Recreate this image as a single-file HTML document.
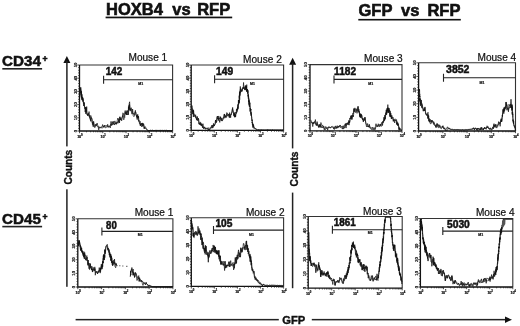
<!DOCTYPE html>
<html><head><meta charset="utf-8"><style>
html,body{margin:0;padding:0;background:#fff;}
body{width:520px;height:326px;overflow:hidden;}
svg{display:block;font-family:"Liberation Sans", sans-serif;}
text{fill:#111;stroke:#111;stroke-width:0.28px;}
svg{will-change:transform;}
</style></head><body>
<svg width="520" height="326" viewBox="0 0 520 326">
<text x="106.0" y="14.5" font-size="16.5" font-weight="bold" style="stroke-width:0.6px" >HOXB4</text>
<text x="172.3" y="14.5" font-size="16.5" font-weight="bold" style="stroke-width:0.6px" >vs</text>
<text x="197.2" y="14.5" font-size="16.5" font-weight="bold" style="stroke-width:0.6px" >RFP</text>
<rect x="105.6" y="16.6" width="126.6" height="1.7" fill="#111"/>
<text x="358.5" y="16.4" font-size="16.5" font-weight="bold" style="stroke-width:0.6px" >GFP</text>
<text x="401.0" y="16.4" font-size="16.5" font-weight="bold" style="stroke-width:0.6px" >vs</text>
<text x="427.4" y="16.4" font-size="16.5" font-weight="bold" style="stroke-width:0.6px" >RFP</text>
<rect x="358.3" y="18.9" width="102.5" height="1.6" fill="#111"/>
<text x="2.0" y="66.2" font-size="15.2" font-weight="bold" style="stroke-width:0.55px" >CD34</text>
<text x="42.6" y="62.0" font-size="8.6" font-weight="bold" style="stroke-width:0.55px" >+</text>
<rect x="2.3" y="68" width="39.8" height="1.6" fill="#222"/>
<text x="2.0" y="224.2" font-size="15.2" font-weight="bold" style="stroke-width:0.55px" >CD45</text>
<text x="42.6" y="220.0" font-size="8.6" font-weight="bold" style="stroke-width:0.55px" >+</text>
<rect x="2.3" y="225.8" width="39.8" height="1.6" fill="#222"/>
<polygon points="66.9,56.0 63.400000000000006,63.0 70.4,63.0" fill="#111"/>
<rect x="66.15" y="61.0" width="1.5" height="85.4" fill="#222"/>
<rect x="66.15" y="189.3" width="1.5" height="97.5" fill="#222"/>
<text x="0" y="0" font-size="10.1" font-weight="bold" text-anchor="middle" style="stroke-width:0.4px" transform="translate(72.0,167.2) rotate(-90)">Counts</text>
<polygon points="292.6,57.8 289.1,64.8 296.1,64.8" fill="#111"/>
<rect x="291.85" y="62.8" width="1.5" height="85.60000000000001" fill="#222"/>
<rect x="291.85" y="192.6" width="1.5" height="95.6" fill="#222"/>
<text x="0" y="0" font-size="10.1" font-weight="bold" text-anchor="middle" style="stroke-width:0.4px" transform="translate(297.6,169.0) rotate(-90)">Counts</text>
<rect x="75.6" y="318.9" width="203.2" height="1.5" fill="#222"/>
<rect x="311.8" y="318.9" width="194" height="1.5" fill="#222"/>
<polygon points="512,319.7 505,316.6 505,322.9" fill="#111"/>
<text x="282.2" y="323.8" font-size="11.2" font-weight="bold" style="stroke-width:0.4px" >GFP</text>
<path d="M79.5,65.0 H172.6 V131.0" fill="none" stroke="#333" stroke-width="1.1"/>
<path d="M79.5,65.0 V131.0 H172.6" fill="none" stroke="#111" stroke-width="1.3"/>
<path d="M77.3,65.00 H79.5 M78.2,67.64 H79.5 M78.2,70.28 H79.5 M78.2,72.92 H79.5 M78.2,75.56 H79.5 M77.3,78.20 H79.5 M78.2,80.84 H79.5 M78.2,83.48 H79.5 M78.2,86.12 H79.5 M78.2,88.76 H79.5 M77.3,91.40 H79.5 M78.2,94.04 H79.5 M78.2,96.68 H79.5 M78.2,99.32 H79.5 M78.2,101.96 H79.5 M77.3,104.60 H79.5 M78.2,107.24 H79.5 M78.2,109.88 H79.5 M78.2,112.52 H79.5 M78.2,115.16 H79.5 M77.3,117.80 H79.5 M78.2,120.44 H79.5 M78.2,123.08 H79.5 M78.2,125.72 H79.5 M78.2,128.36 H79.5 M77.3,131.00 H79.5 M79.50,131.0 V133.2 M86.51,131.0 V132.3 M90.60,131.0 V132.3 M93.51,131.0 V132.3 M95.77,131.0 V132.3 M97.61,131.0 V132.3 M99.17,131.0 V132.3 M100.52,131.0 V132.3 M101.71,131.0 V132.3 M102.78,131.0 V133.2 M109.78,131.0 V132.3 M113.88,131.0 V132.3 M116.79,131.0 V132.3 M119.04,131.0 V132.3 M120.89,131.0 V132.3 M122.44,131.0 V132.3 M123.79,131.0 V132.3 M124.98,131.0 V132.3 M126.05,131.0 V133.2 M133.06,131.0 V132.3 M137.15,131.0 V132.3 M140.06,131.0 V132.3 M142.32,131.0 V132.3 M144.16,131.0 V132.3 M145.72,131.0 V132.3 M147.07,131.0 V132.3 M148.26,131.0 V132.3 M149.32,131.0 V133.2 M156.33,131.0 V132.3 M160.43,131.0 V132.3 M163.34,131.0 V132.3 M165.59,131.0 V132.3 M167.44,131.0 V132.3 M168.99,131.0 V132.3 M170.34,131.0 V132.3 M171.53,131.0 V132.3 M172.60,131.0 V133.2" stroke="#222" stroke-width="0.8" fill="none"/>
<text x="0" y="0" font-size="4.2" font-weight="bold" text-anchor="middle" fill="#333" style="stroke-width:0.15px" transform="translate(76.80,131.00) rotate(-90)">0</text>
<text x="0" y="0" font-size="4.2" font-weight="bold" text-anchor="middle" fill="#333" style="stroke-width:0.15px" transform="translate(76.80,117.80) rotate(-90)">10</text>
<text x="0" y="0" font-size="4.2" font-weight="bold" text-anchor="middle" fill="#333" style="stroke-width:0.15px" transform="translate(76.80,104.60) rotate(-90)">20</text>
<text x="0" y="0" font-size="4.2" font-weight="bold" text-anchor="middle" fill="#333" style="stroke-width:0.15px" transform="translate(76.80,91.40) rotate(-90)">30</text>
<text x="0" y="0" font-size="4.2" font-weight="bold" text-anchor="middle" fill="#333" style="stroke-width:0.15px" transform="translate(76.80,78.20) rotate(-90)">40</text>
<text x="0" y="0" font-size="4.2" font-weight="bold" text-anchor="middle" fill="#333" style="stroke-width:0.15px" transform="translate(76.80,65.00) rotate(-90)">50</text>
<text x="77.30" y="137.60" font-size="3.8" font-weight="bold" style="stroke-width:0.2px" letter-spacing="-0.3">10<tspan font-size="2.8" dy="-2">0</tspan></text>
<text x="100.58" y="137.60" font-size="3.8" font-weight="bold" style="stroke-width:0.2px" letter-spacing="-0.3">10<tspan font-size="2.8" dy="-2">1</tspan></text>
<text x="123.85" y="137.60" font-size="3.8" font-weight="bold" style="stroke-width:0.2px" letter-spacing="-0.3">10<tspan font-size="2.8" dy="-2">2</tspan></text>
<text x="147.12" y="137.60" font-size="3.8" font-weight="bold" style="stroke-width:0.2px" letter-spacing="-0.3">10<tspan font-size="2.8" dy="-2">3</tspan></text>
<text x="170.40" y="137.60" font-size="3.8" font-weight="bold" style="stroke-width:0.2px" letter-spacing="-0.3">10<tspan font-size="2.8" dy="-2">4</tspan></text>
<text x="167.20000000000002" y="61.2" font-size="10.1" font-weight="normal" style="stroke-width:0.22px" text-anchor="end">Mouse 1</text>
<text x="0" y="0" font-size="10.3" font-weight="bold" style="stroke-width:0.5px" transform="translate(105.70,75.00) scale(0.966,1)">142</text>
<path d="M103.6,75.7 V83.7 M103.6,79.7 H172.6" stroke="#222" stroke-width="1.1" fill="none"/>
<text x="138.3" y="85.1" font-size="3.5" font-weight="bold" style="stroke-width:0.2px" fill="#222">M1</text>
<path d="M191.2,65.0 H283.6 V130.4" fill="none" stroke="#333" stroke-width="1.1"/>
<path d="M191.2,65.0 V130.4 H283.6" fill="none" stroke="#111" stroke-width="1.3"/>
<path d="M189.0,65.00 H191.2 M189.89999999999998,67.62 H191.2 M189.89999999999998,70.23 H191.2 M189.89999999999998,72.85 H191.2 M189.89999999999998,75.46 H191.2 M189.0,78.08 H191.2 M189.89999999999998,80.70 H191.2 M189.89999999999998,83.31 H191.2 M189.89999999999998,85.93 H191.2 M189.89999999999998,88.54 H191.2 M189.0,91.16 H191.2 M189.89999999999998,93.78 H191.2 M189.89999999999998,96.39 H191.2 M189.89999999999998,99.01 H191.2 M189.89999999999998,101.62 H191.2 M189.0,104.24 H191.2 M189.89999999999998,106.86 H191.2 M189.89999999999998,109.47 H191.2 M189.89999999999998,112.09 H191.2 M189.89999999999998,114.70 H191.2 M189.0,117.32 H191.2 M189.89999999999998,119.94 H191.2 M189.89999999999998,122.55 H191.2 M189.89999999999998,125.17 H191.2 M189.89999999999998,127.78 H191.2 M189.0,130.40 H191.2 M191.20,130.4 V132.6 M198.15,130.4 V131.70000000000002 M202.22,130.4 V131.70000000000002 M205.11,130.4 V131.70000000000002 M207.35,130.4 V131.70000000000002 M209.18,130.4 V131.70000000000002 M210.72,130.4 V131.70000000000002 M212.06,130.4 V131.70000000000002 M213.24,130.4 V131.70000000000002 M214.30,130.4 V132.6 M221.25,130.4 V131.70000000000002 M225.32,130.4 V131.70000000000002 M228.21,130.4 V131.70000000000002 M230.45,130.4 V131.70000000000002 M232.28,130.4 V131.70000000000002 M233.82,130.4 V131.70000000000002 M235.16,130.4 V131.70000000000002 M236.34,130.4 V131.70000000000002 M237.40,130.4 V132.6 M244.35,130.4 V131.70000000000002 M248.42,130.4 V131.70000000000002 M251.31,130.4 V131.70000000000002 M253.55,130.4 V131.70000000000002 M255.38,130.4 V131.70000000000002 M256.92,130.4 V131.70000000000002 M258.26,130.4 V131.70000000000002 M259.44,130.4 V131.70000000000002 M260.50,130.4 V132.6 M267.45,130.4 V131.70000000000002 M271.52,130.4 V131.70000000000002 M274.41,130.4 V131.70000000000002 M276.65,130.4 V131.70000000000002 M278.48,130.4 V131.70000000000002 M280.02,130.4 V131.70000000000002 M281.36,130.4 V131.70000000000002 M282.54,130.4 V131.70000000000002 M283.60,130.4 V132.6" stroke="#222" stroke-width="0.8" fill="none"/>
<text x="0" y="0" font-size="4.2" font-weight="bold" text-anchor="middle" fill="#333" style="stroke-width:0.15px" transform="translate(188.50,130.40) rotate(-90)">0</text>
<text x="0" y="0" font-size="4.2" font-weight="bold" text-anchor="middle" fill="#333" style="stroke-width:0.15px" transform="translate(188.50,117.32) rotate(-90)">10</text>
<text x="0" y="0" font-size="4.2" font-weight="bold" text-anchor="middle" fill="#333" style="stroke-width:0.15px" transform="translate(188.50,104.24) rotate(-90)">20</text>
<text x="0" y="0" font-size="4.2" font-weight="bold" text-anchor="middle" fill="#333" style="stroke-width:0.15px" transform="translate(188.50,91.16) rotate(-90)">30</text>
<text x="0" y="0" font-size="4.2" font-weight="bold" text-anchor="middle" fill="#333" style="stroke-width:0.15px" transform="translate(188.50,78.08) rotate(-90)">40</text>
<text x="0" y="0" font-size="4.2" font-weight="bold" text-anchor="middle" fill="#333" style="stroke-width:0.15px" transform="translate(188.50,65.00) rotate(-90)">50</text>
<text x="189.00" y="137.00" font-size="3.8" font-weight="bold" style="stroke-width:0.2px" letter-spacing="-0.3">10<tspan font-size="2.8" dy="-2">0</tspan></text>
<text x="212.10" y="137.00" font-size="3.8" font-weight="bold" style="stroke-width:0.2px" letter-spacing="-0.3">10<tspan font-size="2.8" dy="-2">1</tspan></text>
<text x="235.20" y="137.00" font-size="3.8" font-weight="bold" style="stroke-width:0.2px" letter-spacing="-0.3">10<tspan font-size="2.8" dy="-2">2</tspan></text>
<text x="258.30" y="137.00" font-size="3.8" font-weight="bold" style="stroke-width:0.2px" letter-spacing="-0.3">10<tspan font-size="2.8" dy="-2">3</tspan></text>
<text x="281.40" y="137.00" font-size="3.8" font-weight="bold" style="stroke-width:0.2px" letter-spacing="-0.3">10<tspan font-size="2.8" dy="-2">4</tspan></text>
<text x="281.8" y="63.0" font-size="10.1" font-weight="normal" style="stroke-width:0.22px" text-anchor="end">Mouse 2</text>
<text x="0" y="0" font-size="10.3" font-weight="bold" style="stroke-width:0.5px" transform="translate(216.10,75.00) scale(0.989,1)">149</text>
<path d="M214.6,75.3 V83.3 M214.6,79.3 H283.6" stroke="#222" stroke-width="1.1" fill="none"/>
<text x="250.0" y="85.1" font-size="3.5" font-weight="bold" style="stroke-width:0.2px" fill="#222">M1</text>
<path d="M310.0,64.6 H402.0 V130.8" fill="none" stroke="#333" stroke-width="1.1"/>
<path d="M310.0,64.6 V130.8 H402.0" fill="none" stroke="#111" stroke-width="1.3"/>
<path d="M307.8,64.60 H310.0 M308.7,67.25 H310.0 M308.7,69.90 H310.0 M308.7,72.54 H310.0 M308.7,75.19 H310.0 M307.8,77.84 H310.0 M308.7,80.49 H310.0 M308.7,83.14 H310.0 M308.7,85.78 H310.0 M308.7,88.43 H310.0 M307.8,91.08 H310.0 M308.7,93.73 H310.0 M308.7,96.38 H310.0 M308.7,99.02 H310.0 M308.7,101.67 H310.0 M307.8,104.32 H310.0 M308.7,106.97 H310.0 M308.7,109.62 H310.0 M308.7,112.26 H310.0 M308.7,114.91 H310.0 M307.8,117.56 H310.0 M308.7,120.21 H310.0 M308.7,122.86 H310.0 M308.7,125.50 H310.0 M308.7,128.15 H310.0 M307.8,130.80 H310.0 M310.00,130.8 V133.0 M316.92,130.8 V132.10000000000002 M320.97,130.8 V132.10000000000002 M323.85,130.8 V132.10000000000002 M326.08,130.8 V132.10000000000002 M327.90,130.8 V132.10000000000002 M329.44,130.8 V132.10000000000002 M330.77,130.8 V132.10000000000002 M331.95,130.8 V132.10000000000002 M333.00,130.8 V133.0 M339.92,130.8 V132.10000000000002 M343.97,130.8 V132.10000000000002 M346.85,130.8 V132.10000000000002 M349.08,130.8 V132.10000000000002 M350.90,130.8 V132.10000000000002 M352.44,130.8 V132.10000000000002 M353.77,130.8 V132.10000000000002 M354.95,130.8 V132.10000000000002 M356.00,130.8 V133.0 M362.92,130.8 V132.10000000000002 M366.97,130.8 V132.10000000000002 M369.85,130.8 V132.10000000000002 M372.08,130.8 V132.10000000000002 M373.90,130.8 V132.10000000000002 M375.44,130.8 V132.10000000000002 M376.77,130.8 V132.10000000000002 M377.95,130.8 V132.10000000000002 M379.00,130.8 V133.0 M385.92,130.8 V132.10000000000002 M389.97,130.8 V132.10000000000002 M392.85,130.8 V132.10000000000002 M395.08,130.8 V132.10000000000002 M396.90,130.8 V132.10000000000002 M398.44,130.8 V132.10000000000002 M399.77,130.8 V132.10000000000002 M400.95,130.8 V132.10000000000002 M402.00,130.8 V133.0" stroke="#222" stroke-width="0.8" fill="none"/>
<text x="0" y="0" font-size="4.2" font-weight="bold" text-anchor="middle" fill="#333" style="stroke-width:0.15px" transform="translate(307.30,130.80) rotate(-90)">0</text>
<text x="0" y="0" font-size="4.2" font-weight="bold" text-anchor="middle" fill="#333" style="stroke-width:0.15px" transform="translate(307.30,117.56) rotate(-90)">10</text>
<text x="0" y="0" font-size="4.2" font-weight="bold" text-anchor="middle" fill="#333" style="stroke-width:0.15px" transform="translate(307.30,104.32) rotate(-90)">20</text>
<text x="0" y="0" font-size="4.2" font-weight="bold" text-anchor="middle" fill="#333" style="stroke-width:0.15px" transform="translate(307.30,91.08) rotate(-90)">30</text>
<text x="0" y="0" font-size="4.2" font-weight="bold" text-anchor="middle" fill="#333" style="stroke-width:0.15px" transform="translate(307.30,77.84) rotate(-90)">40</text>
<text x="0" y="0" font-size="4.2" font-weight="bold" text-anchor="middle" fill="#333" style="stroke-width:0.15px" transform="translate(307.30,64.60) rotate(-90)">50</text>
<text x="307.80" y="137.40" font-size="3.8" font-weight="bold" style="stroke-width:0.2px" letter-spacing="-0.3">10<tspan font-size="2.8" dy="-2">0</tspan></text>
<text x="330.80" y="137.40" font-size="3.8" font-weight="bold" style="stroke-width:0.2px" letter-spacing="-0.3">10<tspan font-size="2.8" dy="-2">1</tspan></text>
<text x="353.80" y="137.40" font-size="3.8" font-weight="bold" style="stroke-width:0.2px" letter-spacing="-0.3">10<tspan font-size="2.8" dy="-2">2</tspan></text>
<text x="376.80" y="137.40" font-size="3.8" font-weight="bold" style="stroke-width:0.2px" letter-spacing="-0.3">10<tspan font-size="2.8" dy="-2">3</tspan></text>
<text x="399.80" y="137.40" font-size="3.8" font-weight="bold" style="stroke-width:0.2px" letter-spacing="-0.3">10<tspan font-size="2.8" dy="-2">4</tspan></text>
<text x="402.7" y="61.8" font-size="10.1" font-weight="normal" style="stroke-width:0.22px" text-anchor="end">Mouse 3</text>
<text x="0" y="0" font-size="10.3" font-weight="bold" style="stroke-width:0.5px" transform="translate(334.10,74.60) scale(0.982,1)">1182</text>
<path d="M334.0,75.4 V83.4 M334.0,79.4 H402.0" stroke="#222" stroke-width="1.1" fill="none"/>
<text x="368.3" y="84.8" font-size="3.5" font-weight="bold" style="stroke-width:0.2px" fill="#222">M1</text>
<path d="M418.6,62.8 H515.5 V131.0" fill="none" stroke="#333" stroke-width="1.1"/>
<path d="M418.6,62.8 V131.0 H515.5" fill="none" stroke="#111" stroke-width="1.3"/>
<path d="M416.40000000000003,62.80 H418.6 M417.3,65.53 H418.6 M417.3,68.26 H418.6 M417.3,70.98 H418.6 M417.3,73.71 H418.6 M416.40000000000003,76.44 H418.6 M417.3,79.17 H418.6 M417.3,81.90 H418.6 M417.3,84.62 H418.6 M417.3,87.35 H418.6 M416.40000000000003,90.08 H418.6 M417.3,92.81 H418.6 M417.3,95.54 H418.6 M417.3,98.26 H418.6 M417.3,100.99 H418.6 M416.40000000000003,103.72 H418.6 M417.3,106.45 H418.6 M417.3,109.18 H418.6 M417.3,111.90 H418.6 M417.3,114.63 H418.6 M416.40000000000003,117.36 H418.6 M417.3,120.09 H418.6 M417.3,122.82 H418.6 M417.3,125.54 H418.6 M417.3,128.27 H418.6 M416.40000000000003,131.00 H418.6 M418.60,131.0 V133.2 M425.89,131.0 V132.3 M430.16,131.0 V132.3 M433.18,131.0 V132.3 M435.53,131.0 V132.3 M437.45,131.0 V132.3 M439.07,131.0 V132.3 M440.48,131.0 V132.3 M441.72,131.0 V132.3 M442.83,131.0 V133.2 M450.12,131.0 V132.3 M454.38,131.0 V132.3 M457.41,131.0 V132.3 M459.76,131.0 V132.3 M461.68,131.0 V132.3 M463.30,131.0 V132.3 M464.70,131.0 V132.3 M465.94,131.0 V132.3 M467.05,131.0 V133.2 M474.34,131.0 V132.3 M478.61,131.0 V132.3 M481.63,131.0 V132.3 M483.98,131.0 V132.3 M485.90,131.0 V132.3 M487.52,131.0 V132.3 M488.93,131.0 V132.3 M490.17,131.0 V132.3 M491.27,131.0 V133.2 M498.57,131.0 V132.3 M502.83,131.0 V132.3 M505.86,131.0 V132.3 M508.21,131.0 V132.3 M510.13,131.0 V132.3 M511.75,131.0 V132.3 M513.15,131.0 V132.3 M514.39,131.0 V132.3 M515.50,131.0 V133.2" stroke="#222" stroke-width="0.8" fill="none"/>
<text x="0" y="0" font-size="4.2" font-weight="bold" text-anchor="middle" fill="#333" style="stroke-width:0.15px" transform="translate(415.90,131.00) rotate(-90)">0</text>
<text x="0" y="0" font-size="4.2" font-weight="bold" text-anchor="middle" fill="#333" style="stroke-width:0.15px" transform="translate(415.90,117.36) rotate(-90)">10</text>
<text x="0" y="0" font-size="4.2" font-weight="bold" text-anchor="middle" fill="#333" style="stroke-width:0.15px" transform="translate(415.90,103.72) rotate(-90)">20</text>
<text x="0" y="0" font-size="4.2" font-weight="bold" text-anchor="middle" fill="#333" style="stroke-width:0.15px" transform="translate(415.90,90.08) rotate(-90)">30</text>
<text x="0" y="0" font-size="4.2" font-weight="bold" text-anchor="middle" fill="#333" style="stroke-width:0.15px" transform="translate(415.90,76.44) rotate(-90)">40</text>
<text x="0" y="0" font-size="4.2" font-weight="bold" text-anchor="middle" fill="#333" style="stroke-width:0.15px" transform="translate(415.90,62.80) rotate(-90)">50</text>
<text x="416.40" y="137.60" font-size="3.8" font-weight="bold" style="stroke-width:0.2px" letter-spacing="-0.3">10<tspan font-size="2.8" dy="-2">0</tspan></text>
<text x="440.63" y="137.60" font-size="3.8" font-weight="bold" style="stroke-width:0.2px" letter-spacing="-0.3">10<tspan font-size="2.8" dy="-2">1</tspan></text>
<text x="464.85" y="137.60" font-size="3.8" font-weight="bold" style="stroke-width:0.2px" letter-spacing="-0.3">10<tspan font-size="2.8" dy="-2">2</tspan></text>
<text x="489.07" y="137.60" font-size="3.8" font-weight="bold" style="stroke-width:0.2px" letter-spacing="-0.3">10<tspan font-size="2.8" dy="-2">3</tspan></text>
<text x="513.30" y="137.60" font-size="3.8" font-weight="bold" style="stroke-width:0.2px" letter-spacing="-0.3">10<tspan font-size="2.8" dy="-2">4</tspan></text>
<text x="516.1999999999999" y="61.2" font-size="10.1" font-weight="normal" style="stroke-width:0.22px" text-anchor="end">Mouse 4</text>
<text x="0" y="0" font-size="10.3" font-weight="bold" style="stroke-width:0.5px" transform="translate(446.10,73.30) scale(1.017,1)">3852</text>
<path d="M443.5,73.8 V81.8 M443.5,77.8 H515.5" stroke="#222" stroke-width="1.1" fill="none"/>
<text x="479.5" y="83.89999999999999" font-size="3.5" font-weight="bold" style="stroke-width:0.2px" fill="#222">M1</text>
<path d="M77.8,218.8 H172.9 V287.0" fill="none" stroke="#333" stroke-width="1.1"/>
<path d="M77.8,218.8 V287.0 H172.9" fill="none" stroke="#111" stroke-width="1.3"/>
<path d="M75.6,218.80 H77.8 M76.5,221.53 H77.8 M76.5,224.26 H77.8 M76.5,226.98 H77.8 M76.5,229.71 H77.8 M75.6,232.44 H77.8 M76.5,235.17 H77.8 M76.5,237.90 H77.8 M76.5,240.62 H77.8 M76.5,243.35 H77.8 M75.6,246.08 H77.8 M76.5,248.81 H77.8 M76.5,251.54 H77.8 M76.5,254.26 H77.8 M76.5,256.99 H77.8 M75.6,259.72 H77.8 M76.5,262.45 H77.8 M76.5,265.18 H77.8 M76.5,267.90 H77.8 M76.5,270.63 H77.8 M75.6,273.36 H77.8 M76.5,276.09 H77.8 M76.5,278.82 H77.8 M76.5,281.54 H77.8 M76.5,284.27 H77.8 M75.6,287.00 H77.8 M77.80,287.0 V289.2 M84.96,287.0 V288.3 M89.14,287.0 V288.3 M92.11,287.0 V288.3 M94.42,287.0 V288.3 M96.30,287.0 V288.3 M97.89,287.0 V288.3 M99.27,287.0 V288.3 M100.49,287.0 V288.3 M101.58,287.0 V289.2 M108.73,287.0 V288.3 M112.92,287.0 V288.3 M115.89,287.0 V288.3 M118.19,287.0 V288.3 M120.08,287.0 V288.3 M121.67,287.0 V288.3 M123.05,287.0 V288.3 M124.26,287.0 V288.3 M125.35,287.0 V289.2 M132.51,287.0 V288.3 M136.69,287.0 V288.3 M139.66,287.0 V288.3 M141.97,287.0 V288.3 M143.85,287.0 V288.3 M145.44,287.0 V288.3 M146.82,287.0 V288.3 M148.04,287.0 V288.3 M149.12,287.0 V289.2 M156.28,287.0 V288.3 M160.47,287.0 V288.3 M163.44,287.0 V288.3 M165.74,287.0 V288.3 M167.63,287.0 V288.3 M169.22,287.0 V288.3 M170.60,287.0 V288.3 M171.81,287.0 V288.3 M172.90,287.0 V289.2" stroke="#222" stroke-width="0.8" fill="none"/>
<text x="0" y="0" font-size="4.2" font-weight="bold" text-anchor="middle" fill="#333" style="stroke-width:0.15px" transform="translate(75.10,287.00) rotate(-90)">0</text>
<text x="0" y="0" font-size="4.2" font-weight="bold" text-anchor="middle" fill="#333" style="stroke-width:0.15px" transform="translate(75.10,273.36) rotate(-90)">10</text>
<text x="0" y="0" font-size="4.2" font-weight="bold" text-anchor="middle" fill="#333" style="stroke-width:0.15px" transform="translate(75.10,259.72) rotate(-90)">20</text>
<text x="0" y="0" font-size="4.2" font-weight="bold" text-anchor="middle" fill="#333" style="stroke-width:0.15px" transform="translate(75.10,246.08) rotate(-90)">30</text>
<text x="0" y="0" font-size="4.2" font-weight="bold" text-anchor="middle" fill="#333" style="stroke-width:0.15px" transform="translate(75.10,232.44) rotate(-90)">40</text>
<text x="0" y="0" font-size="4.2" font-weight="bold" text-anchor="middle" fill="#333" style="stroke-width:0.15px" transform="translate(75.10,218.80) rotate(-90)">50</text>
<text x="75.60" y="293.60" font-size="3.8" font-weight="bold" style="stroke-width:0.2px" letter-spacing="-0.3">10<tspan font-size="2.8" dy="-2">0</tspan></text>
<text x="99.38" y="293.60" font-size="3.8" font-weight="bold" style="stroke-width:0.2px" letter-spacing="-0.3">10<tspan font-size="2.8" dy="-2">1</tspan></text>
<text x="123.15" y="293.60" font-size="3.8" font-weight="bold" style="stroke-width:0.2px" letter-spacing="-0.3">10<tspan font-size="2.8" dy="-2">2</tspan></text>
<text x="146.93" y="293.60" font-size="3.8" font-weight="bold" style="stroke-width:0.2px" letter-spacing="-0.3">10<tspan font-size="2.8" dy="-2">3</tspan></text>
<text x="170.70" y="293.60" font-size="3.8" font-weight="bold" style="stroke-width:0.2px" letter-spacing="-0.3">10<tspan font-size="2.8" dy="-2">4</tspan></text>
<text x="173.4" y="215.9" font-size="10.1" font-weight="normal" style="stroke-width:0.22px" text-anchor="end">Mouse 1</text>
<text x="0" y="0" font-size="10.3" font-weight="bold" style="stroke-width:0.5px" transform="translate(106.10,228.50) scale(0.925,1)">80</text>
<path d="M101.9,227.4 V235.4 M101.9,231.4 H172.9" stroke="#222" stroke-width="1.1" fill="none"/>
<text x="137.8" y="236.3" font-size="3.5" font-weight="bold" style="stroke-width:0.2px" fill="#222">M1</text>
<path d="M191.3,217.8 H283.6 V286.4" fill="none" stroke="#333" stroke-width="1.1"/>
<path d="M191.3,217.8 V286.4 H283.6" fill="none" stroke="#111" stroke-width="1.3"/>
<path d="M189.10000000000002,217.80 H191.3 M190.0,220.54 H191.3 M190.0,223.29 H191.3 M190.0,226.03 H191.3 M190.0,228.78 H191.3 M189.10000000000002,231.52 H191.3 M190.0,234.26 H191.3 M190.0,237.01 H191.3 M190.0,239.75 H191.3 M190.0,242.50 H191.3 M189.10000000000002,245.24 H191.3 M190.0,247.98 H191.3 M190.0,250.73 H191.3 M190.0,253.47 H191.3 M190.0,256.22 H191.3 M189.10000000000002,258.96 H191.3 M190.0,261.70 H191.3 M190.0,264.45 H191.3 M190.0,267.19 H191.3 M190.0,269.94 H191.3 M189.10000000000002,272.68 H191.3 M190.0,275.42 H191.3 M190.0,278.17 H191.3 M190.0,280.91 H191.3 M190.0,283.66 H191.3 M189.10000000000002,286.40 H191.3 M191.30,286.4 V288.59999999999997 M198.25,286.4 V287.7 M202.31,286.4 V287.7 M205.19,286.4 V287.7 M207.43,286.4 V287.7 M209.26,286.4 V287.7 M210.80,286.4 V287.7 M212.14,286.4 V287.7 M213.32,286.4 V287.7 M214.38,286.4 V288.59999999999997 M221.32,286.4 V287.7 M225.38,286.4 V287.7 M228.27,286.4 V287.7 M230.50,286.4 V287.7 M232.33,286.4 V287.7 M233.88,286.4 V287.7 M235.21,286.4 V287.7 M236.39,286.4 V287.7 M237.45,286.4 V288.59999999999997 M244.40,286.4 V287.7 M248.46,286.4 V287.7 M251.34,286.4 V287.7 M253.58,286.4 V287.7 M255.41,286.4 V287.7 M256.95,286.4 V287.7 M258.29,286.4 V287.7 M259.47,286.4 V287.7 M260.53,286.4 V288.59999999999997 M267.47,286.4 V287.7 M271.53,286.4 V287.7 M274.42,286.4 V287.7 M276.65,286.4 V287.7 M278.48,286.4 V287.7 M280.03,286.4 V287.7 M281.36,286.4 V287.7 M282.54,286.4 V287.7 M283.60,286.4 V288.59999999999997" stroke="#222" stroke-width="0.8" fill="none"/>
<text x="0" y="0" font-size="4.2" font-weight="bold" text-anchor="middle" fill="#333" style="stroke-width:0.15px" transform="translate(188.60,286.40) rotate(-90)">0</text>
<text x="0" y="0" font-size="4.2" font-weight="bold" text-anchor="middle" fill="#333" style="stroke-width:0.15px" transform="translate(188.60,272.68) rotate(-90)">10</text>
<text x="0" y="0" font-size="4.2" font-weight="bold" text-anchor="middle" fill="#333" style="stroke-width:0.15px" transform="translate(188.60,258.96) rotate(-90)">20</text>
<text x="0" y="0" font-size="4.2" font-weight="bold" text-anchor="middle" fill="#333" style="stroke-width:0.15px" transform="translate(188.60,245.24) rotate(-90)">30</text>
<text x="0" y="0" font-size="4.2" font-weight="bold" text-anchor="middle" fill="#333" style="stroke-width:0.15px" transform="translate(188.60,231.52) rotate(-90)">40</text>
<text x="0" y="0" font-size="4.2" font-weight="bold" text-anchor="middle" fill="#333" style="stroke-width:0.15px" transform="translate(188.60,217.80) rotate(-90)">50</text>
<text x="189.10" y="293.00" font-size="3.8" font-weight="bold" style="stroke-width:0.2px" letter-spacing="-0.3">10<tspan font-size="2.8" dy="-2">0</tspan></text>
<text x="212.18" y="293.00" font-size="3.8" font-weight="bold" style="stroke-width:0.2px" letter-spacing="-0.3">10<tspan font-size="2.8" dy="-2">1</tspan></text>
<text x="235.25" y="293.00" font-size="3.8" font-weight="bold" style="stroke-width:0.2px" letter-spacing="-0.3">10<tspan font-size="2.8" dy="-2">2</tspan></text>
<text x="258.33" y="293.00" font-size="3.8" font-weight="bold" style="stroke-width:0.2px" letter-spacing="-0.3">10<tspan font-size="2.8" dy="-2">3</tspan></text>
<text x="281.40" y="293.00" font-size="3.8" font-weight="bold" style="stroke-width:0.2px" letter-spacing="-0.3">10<tspan font-size="2.8" dy="-2">4</tspan></text>
<text x="284.6" y="215.9" font-size="10.1" font-weight="normal" style="stroke-width:0.22px" text-anchor="end">Mouse 2</text>
<text x="0" y="0" font-size="10.3" font-weight="bold" style="stroke-width:0.5px" transform="translate(215.40,226.80) scale(0.989,1)">105</text>
<path d="M213.5,226.1 V234.1 M213.5,230.1 H283.6" stroke="#222" stroke-width="1.1" fill="none"/>
<text x="249.1" y="236.3" font-size="3.5" font-weight="bold" style="stroke-width:0.2px" fill="#222">M1</text>
<path d="M308.2,216.5 H402.2 V288.2" fill="none" stroke="#333" stroke-width="1.1"/>
<path d="M308.2,216.5 V288.2 H402.2" fill="none" stroke="#111" stroke-width="1.3"/>
<path d="M306.0,216.50 H308.2 M306.9,219.37 H308.2 M306.9,222.24 H308.2 M306.9,225.10 H308.2 M306.9,227.97 H308.2 M306.0,230.84 H308.2 M306.9,233.71 H308.2 M306.9,236.58 H308.2 M306.9,239.44 H308.2 M306.9,242.31 H308.2 M306.0,245.18 H308.2 M306.9,248.05 H308.2 M306.9,250.92 H308.2 M306.9,253.78 H308.2 M306.9,256.65 H308.2 M306.0,259.52 H308.2 M306.9,262.39 H308.2 M306.9,265.26 H308.2 M306.9,268.12 H308.2 M306.9,270.99 H308.2 M306.0,273.86 H308.2 M306.9,276.73 H308.2 M306.9,279.60 H308.2 M306.9,282.46 H308.2 M306.9,285.33 H308.2 M306.0,288.20 H308.2 M308.20,288.2 V290.4 M315.27,288.2 V289.5 M319.41,288.2 V289.5 M322.35,288.2 V289.5 M324.63,288.2 V289.5 M326.49,288.2 V289.5 M328.06,288.2 V289.5 M329.42,288.2 V289.5 M330.62,288.2 V289.5 M331.70,288.2 V290.4 M338.77,288.2 V289.5 M342.91,288.2 V289.5 M345.85,288.2 V289.5 M348.13,288.2 V289.5 M349.99,288.2 V289.5 M351.56,288.2 V289.5 M352.92,288.2 V289.5 M354.12,288.2 V289.5 M355.20,288.2 V290.4 M362.27,288.2 V289.5 M366.41,288.2 V289.5 M369.35,288.2 V289.5 M371.63,288.2 V289.5 M373.49,288.2 V289.5 M375.06,288.2 V289.5 M376.42,288.2 V289.5 M377.62,288.2 V289.5 M378.70,288.2 V290.4 M385.77,288.2 V289.5 M389.91,288.2 V289.5 M392.85,288.2 V289.5 M395.13,288.2 V289.5 M396.99,288.2 V289.5 M398.56,288.2 V289.5 M399.92,288.2 V289.5 M401.12,288.2 V289.5 M402.20,288.2 V290.4" stroke="#222" stroke-width="0.8" fill="none"/>
<text x="0" y="0" font-size="4.2" font-weight="bold" text-anchor="middle" fill="#333" style="stroke-width:0.15px" transform="translate(305.50,288.20) rotate(-90)">0</text>
<text x="0" y="0" font-size="4.2" font-weight="bold" text-anchor="middle" fill="#333" style="stroke-width:0.15px" transform="translate(305.50,273.86) rotate(-90)">10</text>
<text x="0" y="0" font-size="4.2" font-weight="bold" text-anchor="middle" fill="#333" style="stroke-width:0.15px" transform="translate(305.50,259.52) rotate(-90)">20</text>
<text x="0" y="0" font-size="4.2" font-weight="bold" text-anchor="middle" fill="#333" style="stroke-width:0.15px" transform="translate(305.50,245.18) rotate(-90)">30</text>
<text x="0" y="0" font-size="4.2" font-weight="bold" text-anchor="middle" fill="#333" style="stroke-width:0.15px" transform="translate(305.50,230.84) rotate(-90)">40</text>
<text x="0" y="0" font-size="4.2" font-weight="bold" text-anchor="middle" fill="#333" style="stroke-width:0.15px" transform="translate(305.50,216.50) rotate(-90)">50</text>
<text x="306.00" y="294.80" font-size="3.8" font-weight="bold" style="stroke-width:0.2px" letter-spacing="-0.3">10<tspan font-size="2.8" dy="-2">0</tspan></text>
<text x="329.50" y="294.80" font-size="3.8" font-weight="bold" style="stroke-width:0.2px" letter-spacing="-0.3">10<tspan font-size="2.8" dy="-2">1</tspan></text>
<text x="353.00" y="294.80" font-size="3.8" font-weight="bold" style="stroke-width:0.2px" letter-spacing="-0.3">10<tspan font-size="2.8" dy="-2">2</tspan></text>
<text x="376.50" y="294.80" font-size="3.8" font-weight="bold" style="stroke-width:0.2px" letter-spacing="-0.3">10<tspan font-size="2.8" dy="-2">3</tspan></text>
<text x="400.00" y="294.80" font-size="3.8" font-weight="bold" style="stroke-width:0.2px" letter-spacing="-0.3">10<tspan font-size="2.8" dy="-2">4</tspan></text>
<text x="401.8" y="214.9" font-size="10.1" font-weight="normal" style="stroke-width:0.22px" text-anchor="end">Mouse 3</text>
<text x="0" y="0" font-size="10.3" font-weight="bold" style="stroke-width:0.5px" transform="translate(333.80,226.20) scale(0.960,1)">1861</text>
<path d="M332.4,225.7 V233.7 M332.4,229.7 H402.2" stroke="#222" stroke-width="1.1" fill="none"/>
<text x="367.8" y="234.3" font-size="3.5" font-weight="bold" style="stroke-width:0.2px" fill="#222">M1</text>
<path d="M420.4,218.5 H512.8 V287.0" fill="none" stroke="#333" stroke-width="1.1"/>
<path d="M420.4,218.5 V287.0 H512.8" fill="none" stroke="#111" stroke-width="1.3"/>
<path d="M418.2,218.50 H420.4 M419.09999999999997,221.24 H420.4 M419.09999999999997,223.98 H420.4 M419.09999999999997,226.72 H420.4 M419.09999999999997,229.46 H420.4 M418.2,232.20 H420.4 M419.09999999999997,234.94 H420.4 M419.09999999999997,237.68 H420.4 M419.09999999999997,240.42 H420.4 M419.09999999999997,243.16 H420.4 M418.2,245.90 H420.4 M419.09999999999997,248.64 H420.4 M419.09999999999997,251.38 H420.4 M419.09999999999997,254.12 H420.4 M419.09999999999997,256.86 H420.4 M418.2,259.60 H420.4 M419.09999999999997,262.34 H420.4 M419.09999999999997,265.08 H420.4 M419.09999999999997,267.82 H420.4 M419.09999999999997,270.56 H420.4 M418.2,273.30 H420.4 M419.09999999999997,276.04 H420.4 M419.09999999999997,278.78 H420.4 M419.09999999999997,281.52 H420.4 M419.09999999999997,284.26 H420.4 M418.2,287.00 H420.4 M420.40,287.0 V289.2 M427.35,287.0 V288.3 M431.42,287.0 V288.3 M434.31,287.0 V288.3 M436.55,287.0 V288.3 M438.38,287.0 V288.3 M439.92,287.0 V288.3 M441.26,287.0 V288.3 M442.44,287.0 V288.3 M443.50,287.0 V289.2 M450.45,287.0 V288.3 M454.52,287.0 V288.3 M457.41,287.0 V288.3 M459.65,287.0 V288.3 M461.48,287.0 V288.3 M463.02,287.0 V288.3 M464.36,287.0 V288.3 M465.54,287.0 V288.3 M466.60,287.0 V289.2 M473.55,287.0 V288.3 M477.62,287.0 V288.3 M480.51,287.0 V288.3 M482.75,287.0 V288.3 M484.58,287.0 V288.3 M486.12,287.0 V288.3 M487.46,287.0 V288.3 M488.64,287.0 V288.3 M489.70,287.0 V289.2 M496.65,287.0 V288.3 M500.72,287.0 V288.3 M503.61,287.0 V288.3 M505.85,287.0 V288.3 M507.68,287.0 V288.3 M509.22,287.0 V288.3 M510.56,287.0 V288.3 M511.74,287.0 V288.3 M512.80,287.0 V289.2" stroke="#222" stroke-width="0.8" fill="none"/>
<text x="0" y="0" font-size="4.2" font-weight="bold" text-anchor="middle" fill="#333" style="stroke-width:0.15px" transform="translate(417.70,287.00) rotate(-90)">0</text>
<text x="0" y="0" font-size="4.2" font-weight="bold" text-anchor="middle" fill="#333" style="stroke-width:0.15px" transform="translate(417.70,273.30) rotate(-90)">10</text>
<text x="0" y="0" font-size="4.2" font-weight="bold" text-anchor="middle" fill="#333" style="stroke-width:0.15px" transform="translate(417.70,259.60) rotate(-90)">20</text>
<text x="0" y="0" font-size="4.2" font-weight="bold" text-anchor="middle" fill="#333" style="stroke-width:0.15px" transform="translate(417.70,245.90) rotate(-90)">30</text>
<text x="0" y="0" font-size="4.2" font-weight="bold" text-anchor="middle" fill="#333" style="stroke-width:0.15px" transform="translate(417.70,232.20) rotate(-90)">40</text>
<text x="0" y="0" font-size="4.2" font-weight="bold" text-anchor="middle" fill="#333" style="stroke-width:0.15px" transform="translate(417.70,218.50) rotate(-90)">50</text>
<text x="418.20" y="293.60" font-size="3.8" font-weight="bold" style="stroke-width:0.2px" letter-spacing="-0.3">10<tspan font-size="2.8" dy="-2">0</tspan></text>
<text x="441.30" y="293.60" font-size="3.8" font-weight="bold" style="stroke-width:0.2px" letter-spacing="-0.3">10<tspan font-size="2.8" dy="-2">1</tspan></text>
<text x="464.40" y="293.60" font-size="3.8" font-weight="bold" style="stroke-width:0.2px" letter-spacing="-0.3">10<tspan font-size="2.8" dy="-2">2</tspan></text>
<text x="487.50" y="293.60" font-size="3.8" font-weight="bold" style="stroke-width:0.2px" letter-spacing="-0.3">10<tspan font-size="2.8" dy="-2">3</tspan></text>
<text x="510.60" y="293.60" font-size="3.8" font-weight="bold" style="stroke-width:0.2px" letter-spacing="-0.3">10<tspan font-size="2.8" dy="-2">4</tspan></text>
<text x="514.5999999999999" y="216.4" font-size="10.1" font-weight="normal" style="stroke-width:0.22px" text-anchor="end">Mouse 4</text>
<text x="0" y="0" font-size="10.3" font-weight="bold" style="stroke-width:0.5px" transform="translate(447.00,228.10) scale(0.995,1)">5030</text>
<path d="M442.8,227.1 V235.1 M442.8,231.1 H512.8" stroke="#222" stroke-width="1.1" fill="none"/>
<text x="478.3" y="236.4" font-size="3.5" font-weight="bold" style="stroke-width:0.2px" fill="#222">M1</text>
<polyline points="80.40,90.63 80.50,87.65 80.60,90.13 80.70,92.88 80.80,89.77 80.90,92.73 81.00,95.34 81.17,91.94 81.33,97.65 81.50,96.46 81.67,95.89 81.83,97.25 82.00,98.32 82.17,97.92 82.33,100.20 82.50,97.58 82.67,98.52 82.83,101.63 83.00,100.53 83.24,99.63 83.48,104.15 83.72,106.07 83.96,103.25 84.20,102.50 84.46,106.22 84.72,107.39 84.98,108.26 85.24,112.04 85.50,107.39 85.80,112.37 86.10,107.38 86.40,109.28 86.70,113.03 87.00,115.01 87.38,115.00 87.75,114.08 88.12,113.81 88.50,114.21 88.75,115.61 89.00,114.97 89.25,116.40 89.50,117.57 89.83,117.14 90.17,118.97 90.50,119.15 90.77,121.36 91.04,118.76 91.31,117.69 91.59,117.87 91.86,119.75 92.13,122.41 92.40,122.02 92.80,124.38 93.20,126.71 93.60,121.28 94.00,123.59 94.50,125.92 95.00,126.47 95.50,125.90 96.14,124.46 96.78,126.07 97.42,126.19 98.06,126.09 98.70,129.84 99.36,127.71 100.02,126.98 100.68,127.52 101.34,127.07 102.00,127.32 102.60,124.59 103.20,126.15 103.80,127.34 104.40,125.00 105.00,126.55 105.67,127.78 106.33,127.12 107.00,127.15 107.67,124.35 108.33,126.77 109.00,125.89 109.67,127.08 110.33,127.91 111.00,121.44 111.67,125.48 112.33,121.55 113.00,124.61 113.55,121.40 114.10,123.67 114.65,125.04 115.20,123.17 115.75,123.88 116.30,124.40 116.90,122.82 117.50,121.69 118.00,123.30 118.50,121.74 119.00,118.73 119.50,122.93 119.88,116.67 120.27,119.93 120.65,118.33 121.03,119.45 121.42,120.32 121.80,117.96 122.35,116.76 122.90,112.83 123.45,113.53 124.00,117.70 124.40,114.33 124.80,113.15 125.20,110.55 125.60,114.19 126.00,113.08 126.40,115.00 126.80,110.59 127.20,112.67 127.60,110.56 128.00,113.68 128.24,113.45 128.48,106.78 128.72,109.70 128.96,106.63 129.20,103.67 129.63,101.80 130.07,111.16 130.50,108.83 130.88,108.55 131.25,111.32 131.62,111.51 132.00,114.16 132.62,109.04 133.25,115.73 133.88,116.62 134.50,115.89 134.95,111.97 135.40,110.33 135.85,114.86 136.30,115.22 136.75,117.14 137.20,119.57 137.46,117.18 137.71,114.32 137.97,118.05 138.22,116.36 138.48,121.19 138.73,121.01 138.99,120.25 139.24,121.82 139.50,123.83 139.86,123.42 140.21,125.54 140.57,123.67 140.93,125.28 141.29,126.14 141.64,126.70 142.00,124.32 142.43,126.39 142.86,123.13 143.29,124.15 143.71,124.44 144.14,128.70 144.57,127.15 145.00,128.45 145.50,128.28 146.00,128.84 146.50,129.41 147.00,129.87 147.50,130.44 148.00,130.51 148.60,130.58 149.20,130.66 149.80,130.48 150.40,130.32 151.00,130.43 151.60,130.68 152.20,130.27 152.80,130.43 153.40,130.67 154.00,130.64 154.60,130.53 155.20,130.65 155.80,130.56 156.40,130.36 157.00,130.30 157.60,130.44 158.20,130.68 158.80,130.46 159.40,130.41 160.00,130.43 160.60,130.32 161.20,130.54 161.80,130.38 162.40,130.61 163.00,130.21 163.60,130.61 164.20,130.47 164.80,130.28 165.40,130.68 166.00,130.53 166.60,130.24 167.20,130.45 167.80,130.63 168.40,130.52 169.00,130.70 169.60,130.70 170.20,130.69 170.80,130.64 171.40,130.70 172.00,130.70" fill="none" stroke="#111" stroke-width="0.75" stroke-linejoin="round"/>
<polyline points="80.70,90.32 80.80,87.38 80.90,92.26 81.00,93.50 81.10,91.88 81.20,92.29 81.30,96.89 81.47,91.13 81.63,95.63 81.80,99.58 81.97,94.29 82.13,97.60 82.30,100.19 82.47,97.22 82.63,98.91 82.80,100.01 82.97,97.73 83.13,99.99 83.30,101.43 83.54,103.38 83.78,102.58 84.02,103.28 84.26,102.84 84.50,105.28 84.76,108.93 85.02,108.51 85.28,106.96 85.54,107.27 85.80,113.95 86.10,111.55 86.40,111.49 86.70,106.57 87.00,113.20 87.30,113.67 87.67,115.97 88.05,113.78 88.42,113.22 88.80,114.84 89.05,111.58 89.30,116.94 89.55,116.42 89.80,115.38 90.13,119.10 90.47,120.36 90.80,115.53 91.07,116.62 91.34,118.00 91.61,117.99 91.89,118.67 92.16,119.35 92.43,124.60 92.70,124.73 93.10,122.18 93.50,122.41 93.90,126.57 94.30,126.22 94.80,127.70 95.30,126.30 95.80,124.04 96.44,125.25 97.08,123.00 97.72,125.31 98.36,126.74 99.00,127.83 99.66,126.76 100.32,127.65 100.98,128.02 101.64,127.74 102.30,128.20 102.90,127.43 103.50,126.08 104.10,127.25 104.70,126.76 105.30,125.69 105.97,125.77 106.63,125.71 107.30,125.75 107.97,127.51 108.63,126.90 109.30,126.39 109.97,126.26 110.63,124.24 111.30,124.91 111.97,125.27 112.63,124.24 113.30,123.52 113.85,124.24 114.40,122.19 114.95,120.88 115.50,123.74 116.05,122.20 116.60,124.06 117.20,120.73 117.80,118.07 118.30,119.22 118.80,122.18 119.30,118.68 119.80,117.02 120.18,117.59 120.57,119.89 120.95,120.28 121.33,120.06 121.72,120.61 122.10,117.83 122.65,115.71 123.20,117.52 123.75,119.83 124.30,118.28 124.70,117.70 125.10,112.33 125.50,112.25 125.90,113.18 126.30,111.79 126.70,114.76 127.10,114.16 127.50,114.97 127.90,113.14 128.30,115.00 128.54,110.99 128.78,106.54 129.02,105.32 129.26,109.73 129.50,104.29 129.93,108.77 130.37,110.24 130.80,109.16 131.18,107.70 131.55,110.49 131.93,110.99 132.30,112.68 132.93,113.73 133.55,113.41 134.18,114.71 134.80,113.19 135.25,112.03 135.70,111.85 136.15,113.50 136.60,117.30 137.05,114.98 137.50,116.10 137.76,117.56 138.01,115.96 138.27,118.14 138.52,116.50 138.78,119.05 139.03,121.46 139.29,122.11 139.54,121.93 139.80,122.43 140.16,121.29 140.51,125.67 140.87,124.06 141.23,125.01 141.59,123.09 141.94,124.40 142.30,122.89 142.73,125.81 143.16,125.95 143.59,123.84 144.01,126.90 144.44,128.52 144.87,126.54 145.30,126.69 145.80,127.62 146.30,128.41 146.80,129.29 147.30,129.84 147.80,130.20 148.30,130.60 148.90,130.61 149.50,130.70 150.10,130.68 150.70,130.31 151.30,130.44 151.90,130.36 152.50,130.36 153.10,130.51 153.70,130.52 154.30,130.60 154.90,130.29 155.50,130.34 156.10,130.53 156.70,130.51 157.30,130.49 157.90,130.53 158.50,130.43 159.10,130.65 159.70,130.60 160.30,130.54 160.90,130.45 161.50,130.53 162.10,130.18 162.70,130.41 163.30,130.57 163.90,130.34 164.50,130.60 165.10,130.59 165.70,130.37 166.30,130.54 166.90,130.53 167.50,130.65 168.10,130.67 168.70,130.58 169.30,130.46 169.90,130.57 170.50,130.58 171.10,130.70 171.70,130.64 172.30,130.49" fill="none" stroke="#111" stroke-width="0.7" stroke-linejoin="round"/>
<polyline points="191.60,105.68 191.75,105.91 191.90,106.15 192.05,107.73 192.20,109.38 192.35,110.34 192.50,110.95 192.72,114.14 192.93,109.74 193.15,111.91 193.37,117.03 193.58,110.57 193.80,113.52 194.18,115.52 194.56,115.79 194.94,116.54 195.32,116.00 195.70,117.90 196.17,118.19 196.65,120.17 197.12,116.27 197.60,118.24 197.98,119.72 198.36,118.18 198.74,119.77 199.12,123.99 199.50,123.76 199.90,124.85 200.30,124.27 200.70,123.44 201.10,124.75 201.50,124.93 201.88,124.03 202.25,125.88 202.62,126.65 203.00,126.20 203.43,127.49 203.87,129.03 204.30,127.29 205.03,127.41 205.75,129.32 206.47,128.57 207.20,128.82 207.80,128.67 208.40,130.10 209.00,129.45 209.67,129.89 210.33,127.12 211.00,127.58 211.50,127.55 212.00,125.09 212.50,128.15 213.00,127.08 213.47,123.44 213.95,126.12 214.43,124.31 214.90,124.30 215.22,123.38 215.54,120.05 215.86,120.90 216.18,122.72 216.50,119.29 216.88,118.38 217.27,117.15 217.65,116.03 218.03,117.32 218.42,119.48 218.80,118.01 219.28,119.74 219.75,122.41 220.22,116.87 220.70,117.10 221.28,119.85 221.86,120.88 222.44,119.26 223.02,117.60 223.60,117.90 224.01,117.12 224.43,113.94 224.84,115.67 225.26,115.26 225.67,117.42 226.09,115.93 226.50,114.84 227.06,113.52 227.62,115.97 228.18,116.43 228.74,114.11 229.30,117.51 229.64,114.23 229.98,115.45 230.32,116.42 230.66,117.50 231.00,113.44 231.55,113.30 232.10,111.97 232.65,107.43 233.20,112.47 233.47,112.77 233.74,115.76 234.01,113.46 234.29,112.44 234.56,116.60 234.83,117.20 235.10,115.68 235.37,116.95 235.64,113.69 235.91,112.14 236.19,113.59 236.46,109.30 236.73,110.43 237.00,110.95 237.12,111.62 237.25,109.33 237.38,109.39 237.50,107.12 237.62,107.97 237.75,109.49 237.88,104.93 238.00,108.55 238.08,104.18 238.15,104.58 238.23,104.33 238.31,104.98 238.38,101.58 238.46,100.01 238.54,103.07 238.62,102.86 238.69,102.19 238.77,104.17 238.85,100.73 238.92,100.34 239.00,101.16 239.10,99.97 239.20,101.02 239.30,95.83 239.40,96.24 239.50,92.21 239.60,96.25 239.70,93.62 239.80,94.67 239.90,95.62 240.00,91.38 240.25,89.65 240.50,89.13 240.75,88.44 241.00,88.64 241.75,91.83 242.50,89.12 242.75,88.46 243.00,87.27 243.25,88.71 243.50,87.09 244.10,86.84 244.70,89.59 245.03,87.69 245.37,85.39 245.70,89.79 245.85,88.33 246.00,86.12 246.15,89.96 246.30,88.95 246.45,85.88 246.60,91.58 246.76,89.82 246.92,91.26 247.08,90.64 247.24,90.60 247.40,89.07 247.51,93.46 247.62,92.54 247.74,92.58 247.85,94.08 247.96,94.37 248.08,96.14 248.19,95.38 248.30,96.75 248.40,94.46 248.50,97.79 248.60,100.21 248.70,101.99 248.80,100.29 248.90,101.45 249.00,104.76 249.10,102.45 249.20,104.47 249.30,106.37 249.40,104.52 249.50,106.77 249.60,104.49 249.70,106.35 249.80,106.46 249.90,107.26 250.00,109.26 250.10,111.61 250.20,107.90 250.30,108.68 250.41,110.92 250.52,109.39 250.63,112.26 250.74,113.03 250.85,112.54 250.95,114.30 251.06,112.24 251.17,115.91 251.28,113.73 251.39,115.57 251.50,116.51 251.60,117.43 251.70,119.57 251.80,119.42 251.90,119.61 252.00,121.31 252.10,123.04 252.20,122.13 252.30,123.16 252.40,124.96 252.55,124.38 252.70,123.27 252.85,127.56 253.00,127.69 253.15,124.31 253.30,126.69 253.55,127.46 253.80,128.20 254.05,128.23 254.30,127.82 254.88,127.94 255.46,128.90 256.04,129.38 256.62,129.40 257.20,129.75 257.80,129.90 258.40,129.62 259.00,129.87 259.60,129.85 260.20,129.99 260.80,129.82 261.40,129.80 262.00,129.88 262.60,129.93 263.20,129.85 263.80,129.95 264.40,130.07 265.00,130.10 265.60,130.10 266.20,129.85 266.80,129.91 267.40,129.61 268.00,130.10 268.60,129.88 269.20,129.99 269.80,130.08 270.40,129.80 271.00,130.08 271.60,130.01 272.20,129.74 272.80,130.06 273.40,130.10 274.00,129.75 274.60,130.10 275.20,130.07 275.80,130.10 276.40,130.10 277.00,130.10 277.60,130.02 278.20,130.10 278.80,130.01 279.40,130.10 280.00,129.95 280.60,130.07 281.20,130.10 281.80,130.10 282.40,130.07 283.00,129.93" fill="none" stroke="#111" stroke-width="0.75" stroke-linejoin="round"/>
<polyline points="191.90,105.10 192.05,107.22 192.20,108.94 192.35,108.78 192.50,109.53 192.65,109.32 192.80,111.98 193.02,109.85 193.23,110.53 193.45,113.70 193.67,113.30 193.88,113.66 194.10,113.76 194.48,114.61 194.86,116.38 195.24,116.42 195.62,114.72 196.00,118.20 196.47,118.57 196.95,117.40 197.43,120.69 197.90,118.90 198.28,118.88 198.66,121.75 199.04,124.18 199.42,123.07 199.80,124.40 200.20,121.91 200.60,125.34 201.00,122.85 201.40,125.94 201.80,124.50 202.18,126.31 202.55,127.96 202.93,123.67 203.30,126.56 203.73,128.23 204.17,127.74 204.60,126.89 205.33,128.90 206.05,128.05 206.78,128.40 207.50,128.93 208.10,127.53 208.70,129.99 209.30,129.00 209.97,128.75 210.63,128.86 211.30,127.92 211.80,126.18 212.30,125.20 212.80,127.67 213.30,126.86 213.78,124.73 214.25,126.04 214.73,124.96 215.20,124.29 215.52,120.02 215.84,121.48 216.16,122.35 216.48,121.76 216.80,121.72 217.18,116.42 217.57,119.02 217.95,118.20 218.33,120.70 218.72,115.96 219.10,117.67 219.58,118.60 220.05,119.06 220.53,116.77 221.00,120.64 221.58,118.24 222.16,121.14 222.74,120.19 223.32,119.00 223.90,116.00 224.31,114.15 224.73,118.26 225.14,117.07 225.56,115.84 225.97,117.17 226.39,117.38 226.80,112.55 227.36,113.63 227.92,114.38 228.48,115.09 229.04,114.76 229.60,112.60 229.94,117.88 230.28,116.02 230.62,115.07 230.96,114.14 231.30,114.80 231.85,111.88 232.40,108.79 232.95,110.55 233.50,112.59 233.77,113.47 234.04,113.05 234.31,116.59 234.59,113.83 234.86,117.22 235.13,114.40 235.40,116.48 235.67,116.89 235.94,114.18 236.21,112.14 236.49,112.91 236.76,112.57 237.03,108.66 237.30,109.87 237.43,110.25 237.55,108.64 237.68,108.73 237.80,108.99 237.93,108.34 238.05,108.03 238.18,107.28 238.30,105.74 238.38,105.61 238.45,104.84 238.53,104.33 238.61,104.04 238.68,101.58 238.76,102.93 238.84,102.88 238.92,101.19 238.99,101.97 239.07,102.22 239.15,100.67 239.22,102.79 239.30,95.76 239.40,98.29 239.50,95.01 239.60,98.30 239.70,99.68 239.80,91.38 239.90,94.41 240.00,94.11 240.10,92.02 240.20,92.41 240.30,86.45 240.55,92.56 240.80,91.58 241.05,90.86 241.30,89.65 242.05,91.07 242.80,87.98 243.05,88.66 243.30,86.49 243.55,82.47 243.80,86.73 244.40,88.52 245.00,90.14 245.33,86.46 245.67,88.20 246.00,87.71 246.15,87.16 246.30,89.35 246.45,90.94 246.60,86.14 246.75,84.64 246.90,89.83 247.06,91.50 247.22,91.02 247.38,91.38 247.54,89.52 247.70,90.08 247.81,93.07 247.93,90.90 248.04,90.37 248.15,92.47 248.26,98.67 248.38,98.65 248.49,95.50 248.60,96.31 248.70,98.53 248.80,97.88 248.90,101.72 249.00,100.48 249.10,99.49 249.20,103.52 249.30,101.24 249.40,102.92 249.50,103.07 249.60,103.16 249.70,104.60 249.80,103.69 249.90,102.62 250.00,102.68 250.10,104.53 250.20,105.91 250.30,107.58 250.40,108.36 250.50,109.69 250.60,109.81 250.71,109.29 250.82,110.10 250.93,109.00 251.04,112.15 251.15,113.63 251.25,114.40 251.36,114.38 251.47,115.08 251.58,117.12 251.69,116.81 251.80,118.29 251.90,118.83 252.00,119.15 252.10,120.95 252.20,119.79 252.30,120.70 252.40,120.85 252.50,121.44 252.60,124.08 252.70,125.27 252.85,124.02 253.00,125.04 253.15,126.07 253.30,126.22 253.45,126.98 253.60,125.31 253.85,126.19 254.10,127.42 254.35,128.48 254.60,128.11 255.18,128.60 255.76,128.83 256.34,129.12 256.92,129.43 257.50,130.10 258.10,129.81 258.70,129.91 259.30,130.10 259.90,130.10 260.50,129.97 261.10,129.84 261.70,129.99 262.30,130.10 262.90,130.04 263.50,130.10 264.10,129.97 264.70,130.03 265.30,129.93 265.90,130.03 266.50,130.10 267.10,129.76 267.70,129.97 268.30,130.02 268.90,129.90 269.50,129.95 270.10,130.10 270.70,130.10 271.30,130.10 271.90,130.06 272.50,129.78 273.10,130.10 273.70,130.04 274.30,130.03 274.90,129.87 275.50,130.03 276.10,129.88 276.70,130.06 277.30,130.10 277.90,130.06 278.50,130.10 279.10,129.94 279.70,130.10 280.30,129.98 280.90,129.81 281.50,130.06 282.10,129.98 282.70,129.94 283.30,130.05" fill="none" stroke="#111" stroke-width="0.7" stroke-linejoin="round"/>
<polyline points="310.80,119.84 311.35,121.94 311.90,122.36 312.45,123.71 313.00,122.23 313.60,123.87 314.20,122.51 314.80,123.19 315.40,119.60 316.00,125.19 316.57,123.76 317.14,121.64 317.71,124.74 318.29,126.03 318.86,127.32 319.43,124.48 320.00,127.39 320.60,124.42 321.20,127.78 321.80,126.38 322.40,127.71 323.00,126.54 323.60,126.63 324.20,129.80 324.83,129.06 325.47,129.38 326.10,129.02 326.73,128.20 327.37,127.99 328.00,128.08 328.64,126.79 329.29,126.68 329.93,128.04 330.58,127.72 331.22,126.88 331.87,126.96 332.51,126.90 333.16,127.68 333.80,129.12 334.44,129.42 335.08,127.32 335.72,125.87 336.36,128.15 337.00,126.87 337.65,128.17 338.30,126.10 338.95,127.16 339.60,126.67 340.17,124.97 340.73,125.96 341.30,127.51 341.87,128.11 342.43,129.08 343.00,126.34 343.55,125.71 344.10,128.11 344.65,127.97 345.20,126.25 345.75,123.46 346.30,125.55 346.67,125.14 347.03,124.38 347.40,122.66 347.77,123.96 348.13,124.91 348.50,122.85 348.78,120.38 349.06,122.94 349.33,122.58 349.61,121.07 349.89,121.36 350.17,117.88 350.44,117.54 350.72,116.39 351.00,117.66 351.33,119.33 351.67,115.88 352.00,119.56 352.33,118.03 352.67,116.06 353.00,115.11 353.40,116.87 353.80,112.27 354.20,111.58 354.60,108.70 355.00,111.05 355.57,112.52 356.15,110.36 356.73,111.32 357.30,110.95 357.68,110.56 358.05,106.08 358.43,110.88 358.80,109.30 359.00,109.51 359.20,111.56 359.40,112.82 359.60,116.08 359.80,116.80 360.00,113.24 360.20,117.36 360.40,117.70 360.60,115.70 360.80,114.16 361.18,115.16 361.56,115.08 361.94,118.43 362.32,119.14 362.70,118.14 363.33,122.03 363.97,118.31 364.60,120.47 364.98,117.28 365.36,120.33 365.74,122.28 366.12,124.18 366.50,126.80 366.90,126.23 367.30,126.42 367.70,126.99 368.10,125.71 368.50,126.67 368.98,125.91 369.45,125.48 369.92,128.09 370.40,127.97 371.10,128.12 371.80,127.93 372.50,127.09 373.35,129.45 374.20,130.24 374.80,129.23 375.40,126.74 376.00,123.72 376.67,126.16 377.33,126.92 378.00,125.33 378.67,126.15 379.33,126.93 380.00,126.14 380.63,124.06 381.27,126.43 381.90,125.66 382.22,122.20 382.54,123.00 382.86,120.96 383.18,122.07 383.50,122.30 383.72,119.41 383.93,117.23 384.15,121.02 384.37,118.93 384.58,119.71 384.80,115.13 384.95,117.81 385.09,118.70 385.24,118.09 385.38,114.34 385.53,114.48 385.68,113.29 385.82,114.52 385.97,114.26 386.12,112.45 386.26,109.81 386.41,112.87 386.55,110.58 386.70,112.20 386.87,111.34 387.03,113.25 387.20,111.79 387.37,108.30 387.53,109.13 387.70,111.36 387.91,107.46 388.12,109.75 388.33,111.56 388.54,112.03 388.76,110.99 388.97,107.96 389.18,108.51 389.39,111.73 389.60,112.46 389.84,116.71 390.08,111.14 390.31,115.48 390.55,116.04 390.79,113.09 391.02,115.74 391.26,118.52 391.50,117.67 392.00,117.32 392.50,117.99 393.00,117.17 393.70,121.02 394.40,120.11 395.03,119.88 395.67,120.86 396.30,120.21 396.50,122.14 396.70,124.57 396.90,123.03 397.10,123.01 397.30,124.25 397.50,123.22 397.70,125.08 397.90,122.88 398.10,125.76 398.30,125.45 398.64,126.24 398.98,129.75 399.32,127.57 399.66,130.10 400.00,129.49 400.50,129.52 401.00,129.65 401.50,130.48" fill="none" stroke="#111" stroke-width="0.75" stroke-linejoin="round"/>
<polyline points="311.10,122.85 311.65,121.90 312.20,123.02 312.75,126.62 313.30,123.09 313.90,121.89 314.50,121.57 315.10,123.59 315.70,123.73 316.30,123.65 316.87,125.99 317.44,123.73 318.01,125.44 318.59,127.42 319.16,124.51 319.73,126.80 320.30,126.93 320.90,122.52 321.50,124.44 322.10,125.78 322.70,124.93 323.30,127.52 323.90,126.36 324.50,128.90 325.13,129.24 325.77,126.48 326.40,128.02 327.03,127.41 327.67,130.21 328.30,127.39 328.94,127.20 329.59,127.52 330.23,127.90 330.88,127.00 331.52,126.97 332.17,126.38 332.81,127.24 333.46,126.88 334.10,128.90 334.74,126.65 335.38,127.33 336.02,128.83 336.66,126.88 337.30,125.67 337.95,127.73 338.60,127.10 339.25,125.55 339.90,125.99 340.47,127.44 341.03,127.13 341.60,126.74 342.17,126.06 342.73,126.19 343.30,129.10 343.85,127.93 344.40,126.04 344.95,123.90 345.50,124.03 346.05,128.09 346.60,123.23 346.97,124.01 347.33,123.96 347.70,123.66 348.07,123.70 348.43,122.38 348.80,122.16 349.08,125.16 349.36,121.30 349.63,122.67 349.91,118.02 350.19,118.91 350.47,118.54 350.74,119.02 351.02,115.50 351.30,117.93 351.63,117.44 351.97,115.08 352.30,116.50 352.63,113.56 352.97,113.08 353.30,113.79 353.70,108.56 354.10,112.21 354.50,109.65 354.90,107.85 355.30,108.64 355.88,110.60 356.45,108.78 357.03,113.37 357.60,108.71 357.98,107.25 358.35,111.79 358.73,110.87 359.10,112.80 359.30,111.33 359.50,114.83 359.70,114.36 359.90,115.35 360.10,114.80 360.30,116.98 360.50,114.66 360.70,114.38 360.90,113.86 361.10,117.93 361.48,114.56 361.86,115.36 362.24,117.46 362.62,120.07 363.00,119.48 363.63,120.94 364.27,118.83 364.90,117.31 365.28,119.09 365.66,122.66 366.04,123.91 366.42,124.74 366.80,125.04 367.20,125.45 367.60,123.50 368.00,126.35 368.40,126.19 368.80,127.25 369.28,124.18 369.75,126.18 370.22,127.70 370.70,128.36 371.40,129.62 372.10,128.46 372.80,129.74 373.65,127.69 374.50,127.90 375.10,129.62 375.70,127.56 376.30,126.84 376.97,126.15 377.63,126.00 378.30,123.76 378.97,126.31 379.63,124.41 380.30,125.84 380.93,125.06 381.57,122.61 382.20,123.27 382.52,125.40 382.84,123.29 383.16,122.32 383.48,122.46 383.80,120.89 384.02,119.94 384.23,119.92 384.45,119.16 384.67,120.13 384.88,117.58 385.10,119.32 385.25,118.70 385.39,118.06 385.54,116.68 385.68,114.90 385.83,114.39 385.98,113.66 386.12,112.49 386.27,113.08 386.42,111.93 386.56,114.92 386.71,113.01 386.85,111.25 387.00,108.42 387.17,110.78 387.33,109.58 387.50,107.85 387.67,107.13 387.83,104.62 388.00,108.91 388.21,108.12 388.42,113.02 388.63,108.91 388.84,109.08 389.06,112.18 389.27,110.39 389.48,110.91 389.69,110.49 389.90,110.55 390.14,114.48 390.38,114.68 390.61,117.02 390.85,114.95 391.09,116.73 391.32,116.38 391.56,119.04 391.80,115.30 392.30,117.60 392.80,119.44 393.30,121.49 394.00,118.89 394.70,122.96 395.33,119.10 395.97,119.06 396.60,119.70 396.80,123.48 397.00,124.18 397.20,121.76 397.40,121.81 397.60,122.51 397.80,125.71 398.00,124.76 398.20,124.19 398.40,123.98 398.60,125.84 398.94,128.65 399.28,129.57 399.62,127.96 399.96,127.95 400.30,128.35 400.80,129.02 401.30,129.94 401.80,130.14" fill="none" stroke="#111" stroke-width="0.7" stroke-linejoin="round"/>
<polyline points="419.20,90.35 419.24,89.54 419.27,91.29 419.31,89.59 419.35,89.95 419.38,91.79 419.42,92.13 419.45,93.06 419.49,94.35 419.53,96.91 419.56,95.01 419.60,96.19 419.64,97.04 419.68,97.41 419.72,98.93 419.76,100.34 419.80,98.26 419.84,100.18 419.88,100.45 419.92,101.66 419.96,100.60 420.00,98.72 420.25,98.91 420.50,105.84 420.75,105.35 421.00,105.27 421.33,99.95 421.67,104.48 422.00,105.11 422.38,105.26 422.75,107.73 423.12,111.28 423.50,110.94 423.90,109.55 424.30,110.38 424.70,107.65 425.10,109.90 425.48,111.58 425.85,114.31 426.23,114.19 426.60,114.79 426.98,115.54 427.35,114.21 427.73,118.56 428.10,114.63 428.40,115.71 428.70,120.94 429.00,121.43 429.30,118.53 429.60,122.26 430.00,122.33 430.40,123.85 430.80,123.61 431.20,123.54 431.70,120.50 432.20,120.00 432.70,121.21 433.20,122.73 433.70,121.73 434.20,123.32 434.70,123.99 435.20,125.66 435.87,127.27 436.53,125.40 437.20,123.69 437.87,127.32 438.53,127.71 439.20,125.48 439.90,127.91 440.60,128.11 441.30,128.79 442.00,127.89 442.66,126.07 443.32,128.07 443.98,129.11 444.64,127.76 445.30,130.70 445.92,130.70 446.53,130.70 447.15,130.70 447.77,129.53 448.38,128.40 449.00,128.02 449.63,129.14 450.26,129.33 450.89,129.37 451.51,129.53 452.14,129.18 452.77,129.89 453.40,129.94 454.00,129.61 454.60,129.74 455.20,129.73 455.80,129.71 456.40,129.66 457.00,129.69 457.60,129.60 458.20,129.77 458.80,129.76 459.40,129.83 460.00,129.67 460.61,129.81 461.22,129.81 461.83,129.89 462.44,129.64 463.06,129.86 463.67,129.95 464.28,129.89 464.89,129.74 465.50,129.73 466.14,129.71 466.79,129.80 467.43,129.86 468.07,129.55 468.71,129.42 469.36,129.51 470.00,129.43 470.62,129.22 471.24,129.20 471.87,129.25 472.49,129.32 473.11,127.88 473.73,128.17 474.36,130.10 474.98,127.93 475.60,128.56 476.23,129.36 476.86,129.19 477.49,128.12 478.11,128.91 478.74,128.64 479.37,129.49 480.00,128.52 480.62,129.92 481.23,127.14 481.85,129.00 482.47,129.27 483.08,130.07 483.70,128.20 484.31,128.97 484.93,127.48 485.54,128.48 486.16,129.37 486.77,127.06 487.39,127.98 488.00,126.57 488.63,128.68 489.27,128.96 489.90,127.90 490.53,128.02 491.17,130.07 491.80,129.63 492.44,129.11 493.08,128.73 493.72,124.61 494.36,125.13 495.00,127.58 495.56,124.25 496.12,127.11 496.68,128.09 497.24,126.71 497.80,126.59 498.23,123.75 498.65,121.62 499.07,123.58 499.50,124.01 499.85,123.83 500.20,123.45 500.55,120.75 500.90,120.18 501.10,120.23 501.30,119.39 501.50,121.82 501.70,119.61 501.90,118.89 502.10,117.03 502.30,114.91 502.50,116.54 502.70,113.11 502.90,109.53 503.10,109.57 503.30,110.27 503.50,109.75 503.70,112.46 503.90,108.65 504.08,111.46 504.27,110.34 504.45,107.43 504.63,109.07 504.82,108.26 505.00,108.95 505.30,106.43 505.60,107.26 505.90,102.28 506.27,104.00 506.63,108.91 507.00,110.27 507.45,108.78 507.90,107.76 508.45,111.81 509.00,104.25 510.00,106.65 510.25,107.98 510.50,106.40 510.75,101.83 511.00,99.24 511.60,106.08 511.65,105.40 511.70,104.99 511.75,106.64 511.80,108.18 511.85,105.22 511.90,109.48 511.95,109.65 512.00,107.38 512.05,110.76 512.10,108.84 512.15,112.21 512.20,112.06 512.25,114.34 512.30,112.20 512.35,113.35 512.41,114.88 512.46,113.93 512.52,114.46 512.57,115.35 512.62,116.20 512.68,115.95 512.73,117.84 512.78,118.47 512.84,118.70 512.89,120.53 512.95,119.75 513.00,121.44 513.17,120.34 513.33,122.90 513.50,120.98 513.67,124.30 513.83,124.89 514.00,125.52 514.20,125.94 514.40,126.72 514.60,126.93 514.80,126.30 515.00,128.19 515.13,128.92 515.27,129.72 515.40,130.34" fill="none" stroke="#111" stroke-width="0.75" stroke-linejoin="round"/>
<polyline points="419.50,89.00 419.54,90.43 419.57,90.26 419.61,90.74 419.65,92.93 419.68,93.30 419.72,93.93 419.75,94.79 419.79,94.26 419.83,95.10 419.86,96.79 419.90,96.01 419.94,97.05 419.98,98.15 420.02,98.80 420.06,98.86 420.10,100.65 420.14,100.25 420.18,101.71 420.22,102.67 420.26,102.95 420.30,104.46 420.55,101.79 420.80,101.69 421.05,103.23 421.30,105.50 421.63,107.67 421.97,103.65 422.30,108.29 422.68,107.50 423.05,107.84 423.43,108.76 423.80,110.71 424.20,109.39 424.60,110.96 425.00,106.92 425.40,112.29 425.78,114.07 426.15,113.82 426.53,115.28 426.90,114.19 427.28,113.24 427.65,113.49 428.03,112.25 428.40,118.39 428.70,115.75 429.00,121.13 429.30,120.89 429.60,121.02 429.90,121.71 430.30,119.32 430.70,122.29 431.10,122.21 431.50,120.25 432.00,122.20 432.50,121.14 433.00,121.80 433.50,124.45 434.00,122.73 434.50,124.58 435.00,125.72 435.50,124.92 436.17,127.65 436.83,123.41 437.50,123.90 438.17,126.47 438.83,124.48 439.50,125.92 440.20,125.52 440.90,127.84 441.60,126.72 442.30,127.27 442.96,125.62 443.62,128.14 444.28,128.06 444.94,128.95 445.60,129.36 446.22,129.54 446.83,128.02 447.45,126.80 448.07,128.73 448.68,127.79 449.30,128.15 449.93,129.32 450.56,129.02 451.19,129.26 451.81,129.34 452.44,129.33 453.07,129.59 453.70,129.58 454.30,129.50 454.90,129.49 455.50,129.78 456.10,129.57 456.70,129.78 457.30,129.78 457.90,129.44 458.50,129.58 459.10,129.76 459.70,129.83 460.30,129.92 460.91,129.92 461.52,129.96 462.13,129.74 462.74,129.77 463.36,129.92 463.97,129.74 464.58,129.96 465.19,129.56 465.80,129.90 466.44,129.72 467.09,129.39 467.73,129.78 468.37,129.62 469.01,129.52 469.66,129.30 470.30,129.33 470.92,129.58 471.54,129.19 472.17,128.89 472.79,129.09 473.41,127.82 474.03,129.26 474.66,129.10 475.28,127.92 475.90,128.06 476.53,130.22 477.16,127.98 477.79,130.66 478.41,128.51 479.04,128.12 479.67,130.00 480.30,129.62 480.92,127.77 481.53,129.65 482.15,127.69 482.77,128.37 483.38,130.04 484.00,128.42 484.61,127.07 485.23,128.39 485.84,128.55 486.46,127.50 487.07,125.78 487.69,127.22 488.30,128.05 488.93,128.45 489.57,129.55 490.20,128.31 490.83,129.51 491.47,129.01 492.10,129.22 492.74,126.90 493.38,128.81 494.02,123.63 494.66,126.88 495.30,125.17 495.86,126.37 496.42,126.60 496.98,124.44 497.54,125.69 498.10,125.20 498.53,124.49 498.95,122.89 499.38,123.32 499.80,122.25 500.15,126.34 500.50,121.49 500.85,120.14 501.20,118.61 501.40,121.35 501.60,119.26 501.80,121.62 502.00,120.09 502.20,117.56 502.40,117.10 502.60,113.02 502.80,112.59 503.00,110.67 503.20,109.57 503.40,111.49 503.60,111.25 503.80,113.77 504.00,107.55 504.20,110.28 504.38,109.32 504.57,109.47 504.75,110.35 504.93,109.77 505.12,108.61 505.30,107.11 505.60,108.25 505.90,107.30 506.20,101.98 506.57,106.06 506.93,104.51 507.30,105.71 507.75,108.93 508.20,109.13 508.75,109.39 509.30,107.44 510.30,106.86 510.55,104.07 510.80,105.35 511.05,105.68 511.30,107.54 511.90,105.91 511.95,104.39 512.00,105.29 512.05,105.38 512.10,107.12 512.15,109.25 512.20,108.60 512.25,106.48 512.30,107.92 512.35,108.46 512.40,110.63 512.45,110.75 512.50,111.57 512.55,113.39 512.60,111.69 512.65,112.26 512.71,115.20 512.76,114.43 512.82,114.11 512.87,113.74 512.92,114.82 512.98,114.91 513.03,117.57 513.08,118.30 513.14,119.72 513.19,119.67 513.25,120.04 513.30,119.89 513.47,123.80 513.63,121.00 513.80,124.00 513.97,124.83 514.13,125.98 514.30,125.57 514.50,126.91 514.70,127.66 514.90,127.37 515.10,127.67 515.30,128.39 515.43,128.68 515.57,129.77 515.70,130.45" fill="none" stroke="#111" stroke-width="0.7" stroke-linejoin="round"/>
<polyline points="78.00,242.34 78.25,242.52 78.50,246.20 78.75,240.38 79.00,244.35 79.25,240.63 79.50,242.29 79.75,243.39 80.00,245.64 80.25,247.88 80.50,250.47 80.75,246.11 81.00,250.41 81.21,250.22 81.43,250.32 81.64,247.90 81.86,251.88 82.07,250.66 82.29,252.30 82.50,251.82 82.71,254.15 82.93,255.33 83.14,255.66 83.36,253.36 83.57,256.00 83.79,257.34 84.00,253.14 84.33,259.06 84.67,253.57 85.00,257.97 85.33,258.11 85.67,260.09 86.00,257.58 86.29,256.41 86.57,256.16 86.86,255.62 87.14,260.74 87.43,260.09 87.71,260.52 88.00,264.72 88.38,262.86 88.75,264.37 89.12,265.10 89.50,269.59 89.80,269.43 90.10,266.32 90.40,263.79 90.70,268.00 91.00,268.10 91.38,269.12 91.75,270.05 92.12,268.81 92.50,271.82 92.88,271.68 93.25,270.53 93.62,269.41 94.00,268.94 94.50,270.71 95.00,268.55 95.50,272.67 96.25,272.58 97.00,271.06 97.50,273.97 98.00,271.83 98.50,271.37 98.88,272.18 99.25,267.58 99.62,271.05 100.00,272.33 100.25,273.11 100.50,268.01 100.75,269.49 101.00,266.87 101.20,267.38 101.40,266.45 101.60,265.84 101.80,269.27 102.00,265.62 102.10,264.83 102.20,264.82 102.30,263.79 102.40,265.03 102.50,261.57 102.60,263.50 102.70,263.51 102.80,263.61 102.90,260.87 103.00,262.71 103.10,258.93 103.20,258.95 103.30,255.62 103.40,256.53 103.50,255.74 103.60,258.71 103.70,256.93 103.80,254.19 103.90,256.19 104.00,256.33 104.17,254.94 104.33,255.27 104.50,254.56 104.67,253.51 104.83,249.94 105.00,251.93 105.33,252.40 105.67,250.25 106.00,246.09 107.00,245.67 107.33,247.01 107.67,249.57 108.00,248.84 108.20,247.93 108.40,250.49 108.60,250.26 108.80,252.41 109.00,251.57 109.17,250.34 109.33,253.51 109.50,255.27 109.67,252.68 109.83,254.95 110.00,257.34 110.21,255.36 110.43,255.21 110.64,260.68 110.86,258.77 111.07,259.52 111.29,256.49 111.50,262.81 111.80,257.74 112.10,261.64 112.40,265.11 112.70,265.88 113.00,260.67 113.50,260.38 114.00,263.10 114.50,259.10 115.00,266.45 115.67,267.71 116.33,264.25 117.00,266.16" fill="none" stroke="#111" stroke-width="0.75" stroke-linejoin="round"/>
<polyline points="78.30,243.74 78.55,242.64 78.80,242.87 79.05,244.62 79.30,240.54 79.55,242.83 79.80,242.54 80.05,246.63 80.30,244.85 80.55,247.26 80.80,247.05 81.05,247.36 81.30,250.90 81.51,247.98 81.73,251.56 81.94,251.18 82.16,252.85 82.37,250.79 82.59,253.60 82.80,253.60 83.01,251.32 83.23,253.29 83.44,252.84 83.66,253.31 83.87,256.42 84.09,253.27 84.30,251.77 84.63,252.30 84.97,255.37 85.30,254.99 85.63,256.42 85.97,257.67 86.30,260.37 86.59,257.86 86.87,258.58 87.16,257.15 87.44,261.20 87.73,264.14 88.01,265.51 88.30,260.01 88.67,266.62 89.05,268.78 89.42,267.56 89.80,263.05 90.10,265.50 90.40,267.45 90.70,267.60 91.00,265.91 91.30,266.24 91.67,270.04 92.05,266.52 92.42,271.82 92.80,269.66 93.17,270.21 93.55,267.51 93.92,268.57 94.30,270.43 94.80,266.85 95.30,275.20 95.80,271.69 96.55,271.72 97.30,273.45 97.80,273.27 98.30,272.94 98.80,270.53 99.17,270.33 99.55,271.03 99.92,271.25 100.30,268.14 100.55,271.82 100.80,269.00 101.05,267.09 101.30,264.20 101.50,265.94 101.70,265.96 101.90,266.31 102.10,268.71 102.30,264.69 102.40,267.11 102.50,264.66 102.60,264.93 102.70,266.67 102.80,262.44 102.90,263.05 103.00,261.62 103.10,263.03 103.20,259.56 103.30,257.80 103.40,260.19 103.50,258.21 103.60,257.88 103.70,259.51 103.80,256.32 103.90,256.68 104.00,257.05 104.10,257.05 104.20,255.35 104.30,258.10 104.47,260.07 104.63,255.08 104.80,257.64 104.97,249.34 105.13,254.05 105.30,249.63 105.63,248.17 105.97,246.63 106.30,245.71 107.30,244.30 107.63,246.35 107.97,250.24 108.30,250.59 108.50,248.70 108.70,249.20 108.90,249.70 109.10,249.44 109.30,255.10 109.47,253.77 109.63,253.44 109.80,253.00 109.97,252.69 110.13,257.15 110.30,256.88 110.51,254.01 110.73,258.02 110.94,254.47 111.16,258.12 111.37,256.19 111.59,258.45 111.80,261.47 112.10,262.93 112.40,264.97 112.70,260.99 113.00,265.18 113.30,264.47 113.80,262.01 114.30,263.77 114.80,262.47 115.30,265.26 115.97,262.97 116.63,264.84 117.30,265.34" fill="none" stroke="#111" stroke-width="0.7" stroke-linejoin="round"/>
<polyline points="130.20,276.98 130.32,276.30 130.44,274.58 130.56,271.07 130.68,273.16 130.80,272.06 131.05,271.00 131.30,270.09 131.90,267.53 132.50,270.66 132.84,275.24 133.18,275.28 133.52,272.63 133.86,272.73 134.20,275.34 134.62,277.18 135.05,276.45 135.47,272.67 135.90,274.04 136.47,276.38 137.03,280.51 137.60,278.84 138.03,277.13 138.45,278.79 138.88,277.44 139.30,280.97 139.87,279.15 140.43,280.93 141.00,281.83 141.57,280.08 142.13,281.87 142.70,281.38 143.47,282.71 144.23,283.35 145.00,283.71 145.55,284.77 146.10,282.12 146.65,283.97 147.20,284.41 147.77,284.68 148.35,286.09 148.93,285.58 149.50,285.54 150.23,285.76 150.97,286.11 151.70,286.51 152.47,286.70 153.23,286.64 154.00,286.70 154.62,286.70 155.23,286.70 155.85,286.70 156.47,286.70 157.08,286.70 157.70,286.70 158.32,286.70 158.93,286.70 159.55,286.70 160.17,286.70 160.78,286.70 161.40,286.70 162.02,286.70 162.63,286.70 163.25,286.70 163.87,286.70 164.48,286.70 165.10,286.52 165.72,286.70 166.33,286.70 166.95,286.70 167.57,286.70 168.18,286.70 168.80,286.70 169.42,286.70 170.03,286.70 170.65,286.70 171.27,286.53 171.88,286.70 172.50,286.70" fill="none" stroke="#111" stroke-width="0.75" stroke-linejoin="round"/>
<polyline points="130.50,276.06 130.62,273.60 130.74,273.80 130.86,275.02 130.98,271.48 131.10,270.62 131.35,269.50 131.60,269.33 132.20,272.10 132.80,272.56 133.14,269.00 133.48,274.87 133.82,272.39 134.16,273.23 134.50,277.47 134.93,275.07 135.35,272.59 135.78,272.79 136.20,273.74 136.77,275.70 137.33,276.91 137.90,277.44 138.33,276.90 138.75,275.59 139.18,281.67 139.60,277.78 140.17,280.03 140.73,280.30 141.30,281.40 141.87,281.44 142.43,283.80 143.00,285.41 143.77,282.65 144.53,282.67 145.30,284.30 145.85,283.36 146.40,283.52 146.95,283.91 147.50,284.78 148.07,284.84 148.65,286.23 149.23,285.30 149.80,285.41 150.53,286.03 151.27,286.15 152.00,286.67 152.77,286.54 153.53,286.70 154.30,286.70 154.92,286.52 155.53,286.68 156.15,286.70 156.77,286.70 157.38,286.63 158.00,286.70 158.62,286.70 159.23,286.70 159.85,286.70 160.47,286.70 161.08,286.70 161.70,286.70 162.32,286.70 162.93,286.70 163.55,286.70 164.17,286.70 164.78,286.70 165.40,286.70 166.02,286.66 166.63,286.70 167.25,286.70 167.87,286.70 168.48,286.70 169.10,286.52 169.72,286.70 170.33,286.70 170.95,286.70 171.57,286.61 172.18,286.70 172.80,286.70" fill="none" stroke="#111" stroke-width="0.7" stroke-linejoin="round"/>
<polyline points="191.10,222.60 191.17,222.30 191.23,220.25 191.30,224.22 191.37,224.74 191.43,224.35 191.50,221.97 191.57,226.17 191.63,226.79 191.70,225.10 191.77,226.30 191.83,227.53 191.90,226.90 192.07,229.03 192.24,227.33 192.41,228.52 192.58,228.51 192.75,226.83 192.92,228.71 193.09,235.97 193.26,233.01 193.43,235.85 193.60,237.24 194.20,237.71 194.80,234.27 195.40,231.26 196.00,234.19 196.50,231.62 197.00,235.56 197.50,235.44 198.00,226.32 198.50,231.07 198.78,232.82 199.07,234.40 199.35,230.77 199.63,232.15 199.92,230.55 200.20,233.01 200.45,236.43 200.70,239.83 200.95,234.04 201.20,239.35 201.45,238.90 201.70,238.51 201.95,245.09 202.20,237.60 202.39,242.83 202.58,243.77 202.77,247.63 202.96,247.46 203.15,248.73 203.34,245.31 203.53,247.60 203.72,249.20 203.91,248.58 204.10,249.52 204.38,249.46 204.66,249.49 204.93,247.89 205.21,254.40 205.49,249.60 205.77,246.34 206.04,251.14 206.32,250.58 206.60,251.10 206.81,254.90 207.03,252.51 207.24,253.39 207.45,253.68 207.66,256.20 207.88,256.21 208.09,257.43 208.30,262.23 208.58,256.45 208.87,252.52 209.15,257.43 209.43,254.79 209.72,254.17 210.00,253.47 210.33,253.26 210.67,252.54 211.00,253.63 211.33,252.34 211.67,252.56 212.00,248.21 212.40,249.31 212.80,248.10 213.20,252.16 213.60,250.58 214.00,245.90 214.34,247.52 214.68,252.55 215.02,250.81 215.36,246.88 215.70,249.61 215.87,251.39 216.04,250.73 216.21,251.98 216.38,253.88 216.55,252.91 216.72,250.77 216.89,254.23 217.06,253.11 217.23,253.77 217.40,252.43 217.69,250.66 217.97,251.51 218.26,253.96 218.54,253.10 218.83,250.67 219.11,259.28 219.40,255.39 219.74,257.39 220.09,261.06 220.43,255.73 220.77,264.62 221.11,260.90 221.46,264.40 221.80,262.42 222.30,264.69 222.80,264.85 223.30,265.12 223.80,261.14 224.30,261.81 224.92,264.82 225.53,268.20 226.15,264.83 226.77,267.41 227.38,265.09 228.00,265.21 228.60,266.22 229.20,261.63 229.80,267.00 230.40,265.00 231.00,264.11 231.60,264.37 232.10,264.55 232.60,263.30 233.10,262.41 233.60,269.88 234.10,267.54 234.37,263.83 234.63,264.97 234.90,261.18 235.17,257.65 235.43,258.55 235.70,261.62 235.97,263.33 236.23,259.44 236.50,256.95 236.75,257.96 237.00,256.04 237.25,254.82 237.50,256.62 237.75,255.14 238.00,253.19 238.25,251.90 238.50,249.89 239.00,253.21 239.50,257.13 240.00,253.14 240.50,257.15 241.00,248.14 241.34,252.47 241.69,249.72 242.03,251.07 242.37,249.07 242.71,247.49 243.06,246.70 243.40,243.57 243.90,243.50 244.40,246.77 244.90,248.37 245.40,245.20 245.90,245.73 246.24,246.23 246.58,240.86 246.92,246.49 247.26,249.70 247.60,245.48 247.77,249.93 247.94,249.90 248.11,248.53 248.28,254.05 248.45,252.85 248.62,252.28 248.79,254.51 248.96,255.47 249.13,256.30 249.30,256.46 249.43,256.81 249.55,254.94 249.68,256.58 249.80,257.79 249.93,253.91 250.05,261.62 250.18,258.03 250.30,257.32 250.43,256.46 250.55,260.07 250.68,260.10 250.80,259.81 250.94,261.05 251.08,261.23 251.23,262.43 251.37,264.43 251.51,264.50 251.65,267.50 251.79,267.13 251.93,268.16 252.07,269.16 252.22,271.02 252.36,270.61 252.50,270.69 252.69,270.70 252.88,270.36 253.07,271.47 253.26,273.34 253.44,273.09 253.63,272.66 253.82,271.83 254.01,272.09 254.20,275.45 254.49,277.57 254.77,277.75 255.06,276.49 255.34,278.49 255.63,279.38 255.91,278.37 256.20,280.29 256.68,280.13 257.16,279.91 257.64,279.85 258.12,282.50 258.60,282.56 259.22,281.97 259.83,282.24 260.45,284.27 261.07,284.50 261.68,284.31 262.30,286.00 262.98,284.33 263.65,284.55 264.32,285.16 265.00,285.27 265.60,285.36 266.20,285.33 266.80,285.18 267.40,285.17 268.00,285.32 268.60,285.57 269.20,285.22 269.80,285.58 270.40,285.42 271.00,285.24 271.60,285.45 272.20,285.50 272.80,285.30 273.40,285.13 274.00,285.50 274.60,285.30 275.20,285.53 275.80,285.20 276.40,285.47 277.00,285.38 277.60,285.29 278.20,285.48 278.80,285.56 279.40,285.46 280.00,285.38 280.60,285.59 281.20,285.31 281.80,285.66 282.40,285.66 283.00,285.84" fill="none" stroke="#111" stroke-width="0.75" stroke-linejoin="round"/>
<polyline points="191.40,221.80 191.47,221.65 191.53,222.02 191.60,222.22 191.67,221.11 191.73,224.85 191.80,224.23 191.87,223.75 191.93,223.22 192.00,226.77 192.07,226.13 192.13,224.59 192.20,227.27 192.37,229.47 192.54,227.00 192.71,228.78 192.88,228.39 193.05,229.07 193.22,233.08 193.39,236.73 193.56,233.25 193.73,233.19 193.90,235.83 194.50,232.32 195.10,234.39 195.70,234.35 196.30,233.22 196.80,234.89 197.30,234.55 197.80,234.01 198.30,231.68 198.80,233.03 199.08,228.44 199.37,232.98 199.65,231.60 199.93,233.87 200.22,234.96 200.50,232.88 200.75,234.74 201.00,233.36 201.25,236.74 201.50,235.97 201.75,238.05 202.00,240.82 202.25,240.52 202.50,244.30 202.69,241.51 202.88,244.61 203.07,244.01 203.26,242.07 203.45,244.09 203.64,243.89 203.83,245.65 204.02,246.73 204.21,251.40 204.40,248.48 204.68,252.92 204.96,250.71 205.23,247.22 205.51,245.24 205.79,251.35 206.07,245.99 206.34,251.52 206.62,252.19 206.90,251.87 207.11,251.94 207.33,253.04 207.54,255.17 207.75,255.31 207.96,255.18 208.18,255.52 208.39,258.40 208.60,255.01 208.88,255.55 209.17,251.94 209.45,252.28 209.73,250.45 210.02,252.26 210.30,253.55 210.63,252.35 210.97,250.29 211.30,252.10 211.63,249.65 211.97,250.66 212.30,250.20 212.70,251.15 213.10,244.96 213.50,246.77 213.90,249.43 214.30,245.67 214.64,251.26 214.98,247.10 215.32,247.52 215.66,252.58 216.00,250.56 216.17,253.41 216.34,251.51 216.51,250.78 216.68,252.80 216.85,250.47 217.02,251.36 217.19,251.46 217.36,252.34 217.53,254.37 217.70,251.96 217.99,254.21 218.27,253.15 218.56,256.58 218.84,250.16 219.13,255.99 219.41,257.73 219.70,256.07 220.04,261.46 220.39,260.72 220.73,263.81 221.07,263.96 221.41,263.77 221.76,262.66 222.10,261.19 222.60,263.63 223.10,263.76 223.60,265.40 224.10,264.04 224.60,270.56 225.22,261.22 225.83,267.88 226.45,265.61 227.07,264.85 227.68,266.02 228.30,263.91 228.90,261.75 229.50,266.45 230.10,265.38 230.70,260.62 231.30,265.70 231.90,264.63 232.40,264.67 232.90,266.30 233.40,265.45 233.90,263.96 234.40,268.24 234.67,264.81 234.93,262.61 235.20,263.83 235.47,262.50 235.73,257.71 236.00,257.96 236.27,257.38 236.53,263.39 236.80,258.73 237.05,258.10 237.30,257.09 237.55,259.46 237.80,256.48 238.05,258.55 238.30,255.63 238.55,256.13 238.80,252.20 239.30,254.60 239.80,253.55 240.30,252.64 240.80,247.66 241.30,251.07 241.64,250.59 241.99,250.80 242.33,252.19 242.67,247.62 243.01,247.23 243.36,247.22 243.70,248.06 244.20,249.52 244.70,246.45 245.20,250.11 245.70,244.49 246.20,241.20 246.54,245.78 246.88,249.65 247.22,244.80 247.56,251.88 247.90,250.48 248.07,248.31 248.24,250.97 248.41,251.87 248.58,252.55 248.75,251.89 248.92,250.90 249.09,253.79 249.26,255.84 249.43,256.32 249.60,256.58 249.73,257.61 249.85,254.71 249.98,256.53 250.10,257.46 250.23,258.83 250.35,257.87 250.48,258.76 250.60,258.52 250.73,261.91 250.85,256.48 250.98,260.59 251.10,265.24 251.24,262.80 251.38,260.68 251.53,264.53 251.67,263.19 251.81,265.20 251.95,267.07 252.09,269.72 252.23,268.57 252.38,269.42 252.52,270.47 252.66,269.97 252.80,269.12 252.99,270.68 253.18,271.64 253.37,271.22 253.56,271.12 253.74,271.95 253.93,270.97 254.12,272.39 254.31,274.51 254.50,275.09 254.79,276.74 255.07,279.52 255.36,278.54 255.64,278.49 255.93,277.56 256.21,278.09 256.50,280.31 256.98,279.41 257.46,281.32 257.94,280.04 258.42,281.66 258.90,282.33 259.52,284.12 260.13,282.83 260.75,283.09 261.37,284.35 261.98,284.53 262.60,285.84 263.28,284.20 263.95,284.62 264.62,284.95 265.30,285.37 265.90,285.34 266.50,285.42 267.10,285.13 267.70,285.70 268.30,285.62 268.90,285.36 269.50,285.20 270.10,285.40 270.70,285.45 271.30,285.08 271.90,285.41 272.50,285.21 273.10,285.50 273.70,285.64 274.30,285.60 274.90,285.24 275.50,285.67 276.10,285.61 276.70,285.44 277.30,285.57 277.90,285.73 278.50,285.47 279.10,285.53 279.70,285.46 280.30,285.72 280.90,285.25 281.50,285.77 282.10,285.44 282.70,285.72 283.30,285.37" fill="none" stroke="#111" stroke-width="0.7" stroke-linejoin="round"/>
<polyline points="308.60,231.88 308.61,233.14 308.62,233.56 308.63,233.25 308.64,234.84 308.65,234.89 308.66,236.13 308.67,236.19 308.68,236.77 308.69,237.14 308.70,238.13 308.71,239.10 308.72,239.21 308.73,239.46 308.74,241.24 308.75,241.76 308.76,242.02 308.77,242.27 308.78,242.67 308.79,243.15 308.80,244.94 308.83,246.05 308.86,245.00 308.89,246.33 308.92,246.73 308.95,247.34 308.98,248.46 309.02,250.16 309.05,248.85 309.08,250.48 309.11,251.24 309.14,250.87 309.17,251.56 309.20,251.12 309.24,253.72 309.28,252.93 309.32,253.38 309.36,254.55 309.40,254.33 309.44,254.74 309.48,255.93 309.52,257.99 309.56,257.13 309.60,258.31 309.64,257.19 309.68,257.35 309.72,261.08 309.76,259.77 309.80,255.96 310.12,259.88 310.43,263.18 310.75,260.29 311.07,263.41 311.38,265.65 311.70,263.08 312.12,265.33 312.55,266.51 312.97,266.27 313.40,264.03 313.74,264.37 314.09,262.68 314.43,263.84 314.77,265.79 315.11,265.47 315.46,268.99 315.80,272.77 316.28,264.83 316.76,267.00 317.24,269.34 317.72,269.33 318.20,264.85 318.44,264.15 318.68,266.76 318.92,266.69 319.16,267.18 319.40,265.46 319.64,268.84 319.88,270.03 320.12,269.56 320.36,272.30 320.60,276.78 320.94,270.39 321.28,274.55 321.62,270.81 321.96,270.05 322.30,272.76 322.75,275.12 323.20,274.86 323.65,272.38 324.10,271.42 324.70,273.94 325.30,276.18 325.90,273.11 326.50,272.43 326.67,276.50 326.84,272.83 327.01,273.58 327.19,272.87 327.36,272.67 327.53,273.36 327.70,272.17 327.82,273.87 327.94,272.08 328.06,272.25 328.18,276.99 328.30,275.05 328.42,276.57 328.54,277.55 328.66,277.35 328.78,277.31 328.90,275.03 329.35,274.98 329.80,278.97 330.25,278.99 330.70,279.28 331.30,277.98 331.90,279.44 332.50,280.88 333.10,280.23 333.70,281.01 334.30,279.37 334.90,285.20 335.50,282.51 336.10,281.20 336.70,282.44 337.30,281.63 337.90,279.99 338.50,282.53 339.10,282.95 339.70,277.32 340.30,278.89 340.90,278.23 341.50,278.13 342.10,282.73 342.44,282.92 342.79,283.43 343.13,282.45 343.47,278.64 343.81,280.75 344.16,278.88 344.50,276.75 344.80,275.36 345.10,276.54 345.40,275.31 345.70,279.11 346.00,277.27 346.30,273.48 346.60,276.95 346.90,276.19 347.07,273.60 347.25,270.90 347.43,274.82 347.60,269.58 347.77,271.00 347.95,267.59 348.12,268.11 348.30,267.10 348.43,270.68 348.55,270.18 348.68,267.11 348.80,264.96 348.93,266.31 349.05,266.33 349.18,262.65 349.30,262.72 349.40,263.56 349.50,264.03 349.60,262.56 349.70,262.52 349.80,259.52 349.90,257.18 350.00,260.60 350.10,258.27 350.20,258.82 350.30,257.90 350.38,258.40 350.46,256.18 350.55,258.43 350.63,255.96 350.71,255.83 350.79,255.20 350.87,254.96 350.95,253.38 351.04,249.84 351.12,250.52 351.20,253.28 351.31,250.37 351.43,249.67 351.54,248.70 351.65,246.21 351.76,245.45 351.88,244.88 351.99,246.98 352.10,244.90 352.40,247.10 352.70,243.93 353.00,245.97 353.20,243.99 353.40,241.62 353.60,247.69 353.80,245.76 354.00,248.03 354.20,246.93 354.40,246.63 354.60,248.26 354.80,246.57 355.00,247.01 355.24,248.60 355.48,250.30 355.72,249.68 355.96,253.10 356.20,254.30 356.37,257.47 356.53,257.26 356.70,254.02 356.87,255.80 357.03,253.96 357.20,255.14 357.38,255.75 357.56,256.22 357.74,258.71 357.92,257.29 358.10,262.65 358.44,262.03 358.79,259.40 359.13,260.05 359.47,261.42 359.81,259.28 360.16,262.30 360.50,263.04 360.84,266.51 361.19,262.17 361.53,265.58 361.88,267.45 362.22,269.93 362.57,267.63 362.91,268.85 363.26,264.30 363.60,266.18 364.04,270.90 364.49,266.78 364.93,271.88 365.37,266.51 365.81,268.03 366.26,265.74 366.70,270.37 366.99,270.00 367.28,274.28 367.57,272.63 367.86,273.53 368.15,273.15 368.44,276.06 368.73,278.22 369.02,278.34 369.31,279.57 369.60,280.32 370.33,279.60 371.05,279.78 371.77,278.23 372.50,275.57 373.12,281.41 373.74,279.64 374.36,277.58 374.98,280.08 375.60,279.15 376.08,279.62 376.56,280.37 377.04,273.81 377.52,279.76 378.00,280.52 378.12,277.10 378.25,274.95 378.37,276.59 378.49,275.63 378.62,274.60 378.74,271.57 378.86,271.32 378.98,271.10 379.11,270.75 379.23,271.82 379.35,268.52 379.48,266.62 379.60,264.49 379.68,268.01 379.76,265.91 379.84,265.30 379.92,263.55 379.99,265.13 380.07,261.24 380.15,263.07 380.23,262.46 380.31,262.07 380.39,262.77 380.47,260.37 380.55,260.03 380.63,260.43 380.71,256.72 380.78,257.76 380.86,257.64 380.94,258.20 381.02,255.34 381.10,256.86 381.16,255.80 381.22,253.07 381.28,252.51 381.34,251.98 381.40,253.23 381.46,252.81 381.53,252.91 381.59,252.52 381.65,250.44 381.71,251.81 381.77,251.03 381.83,250.13 381.89,249.64 381.95,247.10 382.01,248.51 382.07,246.40 382.13,245.72 382.19,246.19 382.25,246.26 382.31,245.54 382.38,244.72 382.44,243.45 382.50,244.32 382.56,242.68 382.62,241.33 382.68,242.49 382.74,243.49 382.80,240.76 382.86,239.43 382.92,241.58 382.98,241.35 383.04,238.50 383.10,238.00 383.16,237.88 383.21,239.87 383.27,236.61 383.33,236.98 383.39,235.77 383.45,232.63 383.51,232.84 383.57,232.10 383.63,233.32 383.69,232.25 383.75,233.44 383.81,230.42 383.87,230.37 383.93,229.40 383.99,228.77 384.04,230.51 384.10,227.52 384.16,228.15 384.22,227.25 384.28,224.41 384.34,225.16 384.40,223.18 384.49,223.05 384.58,222.32 384.67,221.33 384.76,220.03 384.85,222.28 384.94,219.25 385.03,220.04 385.12,220.84 385.21,217.84 385.30,217.20 385.93,217.20 386.55,217.20 387.18,217.20 387.80,217.20 388.43,217.20 389.05,217.20 389.68,217.20 390.30,217.20 390.34,217.82 390.39,218.40 390.43,217.64 390.48,218.72 390.52,220.57 390.57,221.06 390.61,220.79 390.66,221.94 390.70,222.69 390.74,223.48 390.79,224.02 390.83,224.45 390.88,226.11 390.92,224.38 390.97,226.06 391.01,227.27 391.06,227.39 391.10,227.75 391.16,228.51 391.23,229.89 391.29,231.72 391.35,230.74 391.42,231.35 391.48,232.76 391.54,232.77 391.61,231.50 391.67,234.75 391.73,234.70 391.79,235.17 391.86,237.26 391.92,237.28 391.98,237.27 392.05,236.09 392.11,237.32 392.17,240.03 392.24,240.57 392.30,242.66 392.44,243.12 392.58,242.76 392.73,242.24 392.87,243.35 393.01,245.80 393.15,244.91 393.29,248.97 393.43,246.25 393.57,245.73 393.72,248.23 393.86,245.32 394.00,251.01 394.16,246.04 394.32,247.35 394.48,246.66 394.63,245.61 394.79,245.09 394.95,246.07 395.11,252.03 395.27,253.46 395.42,256.63 395.58,251.38 395.74,255.93 395.90,255.39 396.06,257.38 396.22,255.43 396.38,258.09 396.53,258.86 396.69,258.81 396.85,260.88 397.01,258.83 397.17,262.69 397.32,259.54 397.48,264.55 397.64,257.99 397.80,263.06 397.91,262.55 398.01,264.38 398.12,266.54 398.23,266.66 398.33,266.31 398.44,269.35 398.54,265.11 398.65,266.72 398.76,270.77 398.86,269.61 398.97,266.73 399.07,270.76 399.18,269.17 399.29,273.41 399.39,273.48 399.50,271.77 399.63,274.95 399.77,272.50 399.90,275.48 400.03,275.56 400.17,275.19 400.30,274.12 400.43,276.20 400.57,274.33 400.70,277.07 400.83,276.17 400.97,280.34 401.10,278.46 401.23,277.46 401.37,281.11 401.50,281.29 401.63,280.86 401.77,283.79 401.90,283.24" fill="none" stroke="#111" stroke-width="0.75" stroke-linejoin="round"/>
<polyline points="308.90,232.19 308.91,232.57 308.92,232.59 308.93,234.10 308.94,234.84 308.95,234.96 308.96,235.30 308.97,236.31 308.98,236.41 308.99,237.52 309.00,238.34 309.01,239.16 309.02,239.38 309.03,239.95 309.04,240.71 309.05,241.51 309.06,241.57 309.07,241.89 309.08,242.62 309.09,243.07 309.10,243.46 309.13,244.61 309.16,245.54 309.19,246.00 309.22,246.53 309.25,246.81 309.28,247.97 309.32,248.90 309.35,249.40 309.38,250.52 309.41,249.82 309.44,250.44 309.47,252.44 309.50,251.89 309.54,252.63 309.58,252.54 309.62,254.24 309.66,253.60 309.70,253.64 309.74,255.03 309.78,255.25 309.82,256.93 309.86,256.43 309.90,257.43 309.94,257.83 309.98,259.02 310.02,258.87 310.06,261.07 310.10,256.50 310.42,260.49 310.73,261.69 311.05,265.94 311.37,264.64 311.68,265.43 312.00,263.72 312.43,263.17 312.85,263.16 313.27,265.19 313.70,262.96 314.04,264.20 314.39,264.27 314.73,266.54 315.07,265.32 315.41,264.99 315.76,264.50 316.10,266.86 316.58,266.82 317.06,271.42 317.54,268.99 318.02,270.46 318.50,267.74 318.74,262.26 318.98,267.12 319.22,267.69 319.46,268.77 319.70,267.09 319.94,269.83 320.18,268.66 320.42,270.65 320.66,272.06 320.90,276.78 321.24,272.67 321.58,274.24 321.92,272.22 322.26,271.43 322.60,273.88 323.05,275.52 323.50,272.97 323.95,274.86 324.40,272.88 325.00,273.86 325.60,275.49 326.20,273.15 326.80,273.91 326.97,272.87 327.14,274.77 327.31,274.90 327.49,273.84 327.66,274.02 327.83,270.92 328.00,272.81 328.12,273.34 328.24,273.69 328.36,273.16 328.48,274.49 328.60,275.07 328.72,276.63 328.84,276.28 328.96,276.78 329.08,276.31 329.20,278.39 329.65,278.79 330.10,276.85 330.55,278.91 331.00,279.46 331.60,281.10 332.20,280.48 332.80,284.54 333.40,278.78 334.00,280.58 334.60,281.35 335.20,285.55 335.80,282.04 336.40,281.53 337.00,282.15 337.60,281.93 338.20,280.75 338.80,281.83 339.40,280.25 340.00,280.26 340.60,278.41 341.20,279.91 341.80,280.47 342.40,281.56 342.74,282.89 343.09,282.86 343.43,283.57 343.77,280.86 344.11,280.93 344.46,280.52 344.80,277.41 345.10,276.17 345.40,276.56 345.70,275.76 346.00,275.71 346.30,278.71 346.60,276.33 346.90,274.94 347.20,272.30 347.38,273.45 347.55,274.43 347.73,270.65 347.90,270.50 348.07,272.94 348.25,272.96 348.43,272.66 348.60,268.79 348.73,269.72 348.85,267.17 348.98,268.31 349.10,266.37 349.23,266.52 349.35,267.55 349.48,265.40 349.60,263.98 349.70,263.81 349.80,263.54 349.90,261.86 350.00,262.31 350.10,262.31 350.20,263.13 350.30,257.28 350.40,257.98 350.50,257.33 350.60,259.65 350.68,260.94 350.76,257.23 350.85,256.37 350.93,256.94 351.01,251.48 351.09,253.68 351.17,249.86 351.25,252.59 351.34,250.96 351.42,250.22 351.50,250.46 351.61,248.22 351.73,250.03 351.84,247.72 351.95,247.69 352.06,250.33 352.18,245.20 352.29,246.69 352.40,242.55 352.70,246.13 353.00,244.97 353.30,242.84 353.50,245.10 353.70,246.92 353.90,247.16 354.10,245.28 354.30,245.88 354.50,248.77 354.70,244.64 354.90,246.97 355.10,249.82 355.30,250.94 355.54,254.47 355.78,255.26 356.02,253.44 356.26,253.91 356.50,250.56 356.67,252.71 356.83,253.62 357.00,252.87 357.17,253.50 357.33,255.54 357.50,254.01 357.68,256.09 357.86,255.27 358.04,261.96 358.22,259.34 358.40,258.62 358.74,263.10 359.09,260.04 359.43,261.81 359.77,259.45 360.11,265.29 360.46,262.80 360.80,262.84 361.14,264.10 361.49,264.78 361.83,267.48 362.18,270.19 362.52,265.74 362.87,264.68 363.21,268.02 363.56,268.99 363.90,264.11 364.34,265.67 364.79,265.10 365.23,268.51 365.67,268.98 366.11,267.15 366.56,266.58 367.00,270.09 367.29,266.78 367.58,272.89 367.87,273.23 368.16,278.09 368.45,277.23 368.74,275.29 369.03,276.24 369.32,276.74 369.61,276.87 369.90,279.20 370.63,280.95 371.35,275.60 372.07,277.48 372.80,280.41 373.42,279.78 374.04,277.79 374.66,278.19 375.28,277.64 375.90,275.92 376.38,279.93 376.86,278.33 377.34,277.68 377.82,277.30 378.30,277.75 378.42,276.60 378.55,278.08 378.67,274.57 378.79,274.17 378.92,274.23 379.04,272.66 379.16,270.49 379.28,267.21 379.41,271.16 379.53,269.56 379.65,267.62 379.78,267.49 379.90,266.37 379.98,265.79 380.06,264.49 380.14,266.10 380.22,265.50 380.29,264.48 380.37,264.58 380.45,263.69 380.53,262.59 380.61,260.75 380.69,261.96 380.77,262.13 380.85,260.85 380.93,261.06 381.01,258.27 381.08,257.03 381.16,259.31 381.24,256.36 381.32,256.84 381.40,255.85 381.46,255.59 381.52,254.76 381.58,253.95 381.64,252.03 381.70,255.75 381.76,253.31 381.83,250.38 381.89,251.04 381.95,250.30 382.01,250.24 382.07,247.68 382.13,250.74 382.19,251.46 382.25,248.81 382.31,249.44 382.37,248.78 382.43,246.18 382.49,248.49 382.55,244.61 382.61,245.30 382.68,244.98 382.74,246.24 382.80,244.37 382.86,243.52 382.92,242.17 382.98,242.62 383.04,241.99 383.10,242.14 383.16,242.28 383.22,240.96 383.28,239.57 383.34,238.79 383.40,240.13 383.46,237.99 383.51,237.16 383.57,238.57 383.63,237.66 383.69,235.85 383.75,234.40 383.81,233.11 383.87,234.29 383.93,231.90 383.99,232.76 384.05,230.13 384.11,230.41 384.17,230.03 384.23,229.04 384.29,228.44 384.34,227.89 384.40,225.53 384.46,224.84 384.52,225.20 384.58,226.65 384.64,223.81 384.70,221.92 384.79,221.75 384.88,222.14 384.97,223.16 385.06,220.27 385.15,221.25 385.24,220.21 385.33,218.95 385.42,217.62 385.51,217.84 385.60,217.20 386.23,217.20 386.85,217.20 387.48,217.20 388.10,217.20 388.73,217.20 389.35,217.20 389.98,217.20 390.60,217.20 390.64,217.82 390.69,218.85 390.73,218.42 390.78,218.63 390.82,220.70 390.87,221.39 390.91,221.15 390.96,221.94 391.00,222.32 391.04,222.89 391.09,223.98 391.13,225.65 391.18,223.80 391.22,225.59 391.27,228.02 391.31,227.45 391.36,227.97 391.40,229.45 391.46,228.07 391.53,228.53 391.59,228.72 391.65,229.64 391.72,232.27 391.78,233.65 391.84,232.91 391.91,233.31 391.97,235.23 392.03,236.16 392.09,236.46 392.16,234.71 392.22,236.94 392.28,235.39 392.35,239.23 392.41,238.69 392.47,239.60 392.54,242.74 392.60,244.58 392.74,244.02 392.88,244.50 393.03,245.15 393.17,244.72 393.31,246.43 393.45,250.50 393.59,246.03 393.73,246.17 393.88,247.31 394.02,248.30 394.16,247.98 394.30,244.68 394.46,245.76 394.62,245.34 394.78,244.83 394.93,248.23 395.09,248.42 395.25,251.98 395.41,252.30 395.57,251.37 395.72,253.89 395.88,253.61 396.04,253.61 396.20,254.33 396.36,257.47 396.52,255.39 396.68,253.61 396.83,255.77 396.99,259.32 397.15,262.46 397.31,257.76 397.47,259.78 397.62,260.65 397.78,259.61 397.94,263.49 398.10,263.12 398.21,264.20 398.31,267.60 398.42,264.63 398.53,266.71 398.63,267.34 398.74,265.93 398.84,266.59 398.95,270.04 399.06,269.48 399.16,269.28 399.27,268.24 399.38,271.30 399.48,271.39 399.59,273.97 399.69,273.61 399.80,273.49 399.93,273.35 400.07,273.65 400.20,273.50 400.33,275.13 400.47,275.65 400.60,276.71 400.73,277.78 400.87,277.51 401.00,277.18 401.13,279.20 401.27,280.43 401.40,278.42 401.53,280.07 401.67,280.60 401.80,281.01 401.93,281.42 402.07,281.38 402.20,281.49" fill="none" stroke="#111" stroke-width="0.7" stroke-linejoin="round"/>
<polyline points="421.00,219.30 421.04,219.97 421.09,220.06 421.13,220.47 421.17,220.87 421.21,220.91 421.26,221.26 421.30,222.72 421.36,223.91 421.41,221.03 421.47,223.60 421.53,226.17 421.59,226.28 421.64,225.11 421.70,227.83 421.77,225.69 421.83,226.47 421.90,230.18 421.97,227.99 422.03,228.80 422.10,227.71 422.17,229.00 422.23,229.37 422.30,231.12 422.37,230.00 422.43,234.18 422.50,233.37 422.57,233.92 422.63,234.72 422.70,236.89 422.82,239.17 422.93,237.25 423.05,241.43 423.17,242.49 423.28,243.15 423.40,242.61 423.52,240.28 423.63,244.04 423.75,242.80 423.87,244.15 423.98,241.38 424.10,244.20 424.24,245.43 424.38,243.87 424.53,246.32 424.67,249.23 424.81,247.48 424.95,246.60 425.09,252.31 425.23,245.43 425.38,248.11 425.52,250.94 425.66,249.81 425.80,246.82 426.00,251.77 426.20,253.08 426.40,250.34 426.60,254.76 426.80,253.72 427.00,256.22 427.20,252.44 427.40,256.34 427.80,260.89 428.20,261.01 428.60,258.68 429.00,254.97 429.40,254.53 429.72,253.20 430.03,257.17 430.35,254.92 430.67,258.01 430.98,254.94 431.30,257.43 431.83,266.29 432.37,262.72 432.90,260.60 433.09,256.66 433.27,260.86 433.46,265.12 433.64,259.31 433.83,258.28 434.01,262.77 434.20,262.64 434.38,263.75 434.57,262.13 434.75,262.15 434.93,262.58 435.12,266.10 435.30,265.07 435.64,267.12 435.99,264.32 436.33,268.86 436.67,267.67 437.01,268.85 437.36,270.63 437.70,269.00 438.15,269.60 438.60,268.37 439.05,272.39 439.50,273.91 439.95,271.12 440.40,272.18 440.85,268.93 441.30,270.25 441.81,274.37 442.33,276.20 442.84,272.56 443.36,270.10 443.87,273.95 444.39,273.17 444.90,276.35 445.50,280.81 446.10,276.58 446.70,275.29 447.30,278.39 447.90,275.69 448.50,275.49 449.01,276.21 449.53,278.67 450.04,276.98 450.56,280.66 451.07,280.91 451.59,275.75 452.10,275.40 452.55,279.40 453.00,284.17 453.45,282.31 453.90,282.80 454.35,282.33 454.80,282.40 455.25,280.43 455.70,280.89 456.30,282.36 456.90,283.72 457.50,284.88 458.10,284.26 458.70,283.26 459.30,285.62 459.90,285.15 460.50,284.84 461.16,281.11 461.81,285.26 462.47,282.37 463.12,285.23 463.78,283.66 464.43,284.39 465.09,284.41 465.74,284.31 466.40,284.48 467.00,284.84 467.60,283.84 468.20,282.05 468.80,284.11 469.40,286.18 470.00,284.02 470.60,283.81 471.20,283.38 471.80,283.59 472.40,285.99 473.00,286.49 473.60,283.47 474.20,282.91 474.80,284.49 475.40,282.71 476.00,284.18 476.60,286.33 477.20,285.39 477.80,282.00 478.40,279.51 479.00,281.95 479.60,280.70 480.20,280.82 480.80,280.78 481.40,278.89 482.00,282.81 482.60,282.30 483.20,282.37 483.80,278.91 484.40,278.61 485.00,278.71 485.60,278.36 486.20,283.30 486.80,278.15 487.40,278.38 488.00,278.56 488.60,278.73 489.20,280.47 489.80,276.67 490.40,280.02 491.00,277.94 491.60,274.60 492.20,278.14 492.80,276.40 493.13,279.37 493.46,274.21 493.79,275.27 494.11,275.97 494.44,273.19 494.77,273.06 495.10,274.27 495.24,271.97 495.38,273.91 495.53,272.19 495.67,270.12 495.81,269.49 495.95,270.82 496.09,267.12 496.23,271.62 496.38,267.56 496.52,268.23 496.66,266.83 496.80,269.75 496.88,268.32 496.96,268.50 497.04,267.24 497.12,266.00 497.19,267.29 497.27,265.16 497.35,264.07 497.43,263.44 497.51,262.83 497.59,261.41 497.67,260.02 497.75,257.34 497.83,261.27 497.91,256.08 497.98,254.15 498.06,255.20 498.14,257.82 498.22,256.13 498.30,253.36 498.36,253.72 498.41,252.80 498.47,250.02 498.52,251.25 498.58,251.35 498.64,251.72 498.69,248.49 498.75,246.71 498.81,246.87 498.86,248.39 498.92,247.51 498.98,246.98 499.03,246.38 499.09,245.21 499.14,243.49 499.20,244.90 499.26,244.22 499.32,243.83 499.39,243.98 499.45,240.40 499.51,238.46 499.57,238.48 499.64,242.46 499.70,238.22 499.76,239.12 499.82,237.99 499.89,238.23 499.95,239.68 500.01,235.47 500.07,235.24 500.14,234.09 500.20,234.24 500.29,233.97 500.38,231.21 500.46,234.06 500.55,233.57 500.64,232.34 500.73,231.31 500.81,230.89 500.90,228.66 500.99,231.65 501.07,229.11 501.16,229.53 501.25,231.39 501.34,228.45 501.43,228.77 501.51,230.39 501.60,232.54 501.78,226.94 501.95,229.23 502.12,225.06 502.30,225.99 502.48,225.20 502.65,221.25 502.82,224.12 503.00,225.21 503.38,219.61 503.75,220.20 504.12,219.70 504.50,219.20 505.12,219.20 505.73,219.20 506.35,219.20 506.96,219.20 507.58,219.20 508.19,219.20 508.81,219.20 509.42,219.20 510.04,219.20 510.65,219.20 511.27,219.20 511.88,219.20 512.50,219.20" fill="none" stroke="#111" stroke-width="0.75" stroke-linejoin="round"/>
<polyline points="421.30,219.30 421.34,219.97 421.39,219.72 421.43,219.10 421.47,221.94 421.51,221.16 421.56,221.26 421.60,223.82 421.66,222.60 421.71,224.78 421.77,225.02 421.83,226.23 421.89,224.11 421.94,225.61 422.00,226.36 422.07,226.25 422.13,228.85 422.20,226.75 422.27,229.34 422.33,230.47 422.40,227.36 422.47,229.36 422.53,230.28 422.60,231.53 422.67,233.48 422.73,233.64 422.80,234.78 422.87,234.97 422.93,236.25 423.00,237.71 423.12,239.19 423.23,237.85 423.35,239.97 423.47,239.64 423.58,240.99 423.70,239.43 423.82,243.64 423.93,243.61 424.05,242.78 424.17,242.32 424.28,243.10 424.40,243.06 424.54,242.01 424.68,248.05 424.83,250.15 424.97,244.45 425.11,245.18 425.25,248.78 425.39,249.46 425.53,246.39 425.68,246.30 425.82,250.86 425.96,246.94 426.10,253.21 426.30,249.84 426.50,251.19 426.70,251.28 426.90,251.45 427.10,253.47 427.30,254.39 427.50,258.54 427.70,257.27 428.10,257.06 428.50,255.14 428.90,254.11 429.30,253.03 429.70,253.92 430.02,258.14 430.33,258.04 430.65,257.61 430.97,262.03 431.28,262.10 431.60,262.34 432.13,262.71 432.67,259.39 433.20,260.22 433.39,259.63 433.57,257.85 433.76,258.94 433.94,265.36 434.13,262.76 434.31,263.80 434.50,263.58 434.68,262.63 434.87,264.41 435.05,265.65 435.23,263.55 435.42,265.13 435.60,266.82 435.94,265.01 436.29,267.40 436.63,266.71 436.97,269.35 437.31,267.65 437.66,270.56 438.00,268.08 438.45,274.01 438.90,271.36 439.35,270.47 439.80,270.45 440.25,273.26 440.70,270.49 441.15,275.46 441.60,275.38 442.11,274.75 442.63,270.70 443.14,272.53 443.66,272.58 444.17,272.22 444.69,276.99 445.20,280.88 445.80,275.67 446.40,276.61 447.00,278.03 447.60,275.41 448.20,274.91 448.80,275.12 449.31,277.55 449.83,277.16 450.34,279.51 450.86,279.43 451.37,280.29 451.89,276.26 452.40,279.06 452.85,280.81 453.30,281.78 453.75,282.68 454.20,280.79 454.65,283.98 455.10,280.14 455.55,282.02 456.00,282.75 456.60,283.35 457.20,283.36 457.80,283.15 458.40,283.40 459.00,284.70 459.60,284.91 460.20,284.69 460.80,283.80 461.46,283.09 462.11,283.63 462.77,286.31 463.42,284.24 464.08,282.53 464.73,286.25 465.39,284.07 466.04,283.55 466.70,285.30 467.30,283.61 467.90,283.82 468.50,285.54 469.10,284.51 469.70,286.70 470.30,284.25 470.90,285.82 471.50,284.33 472.10,284.75 472.70,284.24 473.30,283.96 473.90,282.53 474.50,283.21 475.10,284.51 475.70,283.37 476.30,284.45 476.90,282.57 477.50,285.22 478.10,281.52 478.70,281.06 479.30,282.16 479.90,283.11 480.50,281.41 481.10,282.58 481.70,282.32 482.30,281.64 482.90,281.07 483.50,278.87 484.10,282.06 484.70,278.29 485.30,278.91 485.90,281.40 486.50,280.21 487.10,280.42 487.70,281.04 488.30,280.70 488.90,280.23 489.50,278.12 490.10,281.61 490.70,277.01 491.30,277.08 491.90,278.84 492.50,278.31 493.10,277.36 493.43,275.47 493.76,276.28 494.09,270.78 494.41,276.53 494.74,276.58 495.07,274.61 495.40,274.54 495.54,271.93 495.68,273.82 495.83,274.91 495.97,269.74 496.11,272.42 496.25,270.20 496.39,269.54 496.53,269.07 496.68,269.24 496.82,267.47 496.96,267.07 497.10,270.21 497.18,267.52 497.26,267.41 497.34,266.34 497.42,265.75 497.49,262.53 497.57,262.41 497.65,263.56 497.73,263.21 497.81,259.68 497.89,259.57 497.97,258.11 498.05,259.53 498.13,258.30 498.21,257.09 498.28,255.57 498.36,256.24 498.44,255.20 498.52,253.56 498.60,254.39 498.66,252.68 498.71,253.88 498.77,252.92 498.82,250.85 498.88,251.67 498.94,250.49 498.99,249.03 499.05,248.20 499.11,246.76 499.16,246.75 499.22,247.80 499.28,248.16 499.33,245.49 499.39,245.73 499.44,245.30 499.50,245.15 499.56,244.11 499.62,244.40 499.69,243.21 499.75,240.76 499.81,241.49 499.88,237.61 499.94,239.52 500.00,239.12 500.06,239.13 500.12,237.45 500.19,238.15 500.25,238.08 500.31,234.89 500.38,234.59 500.44,235.05 500.50,234.82 500.59,234.09 500.68,234.81 500.76,231.73 500.85,234.24 500.94,234.55 501.03,234.22 501.11,233.01 501.20,231.83 501.29,232.48 501.38,231.57 501.46,229.20 501.55,230.05 501.64,230.11 501.73,228.70 501.81,227.38 501.90,228.11 502.08,226.88 502.25,226.72 502.43,225.53 502.60,224.96 502.78,225.40 502.95,222.78 503.12,222.21 503.30,219.10 503.68,219.10 504.05,220.20 504.43,219.70 504.80,219.20 505.42,219.20 506.03,219.20 506.65,219.20 507.26,219.20 507.88,219.20 508.49,219.20 509.11,219.20 509.72,219.20 510.34,219.20 510.95,219.20 511.57,219.20 512.18,219.20 512.80,219.20" fill="none" stroke="#111" stroke-width="0.7" stroke-linejoin="round"/>
<polygon points="502.2,220.5 505.5,219.3 505.3,224 503.2,227.5 501.6,227" fill="#555"/>
<path d="M119.4,265.8 h0.9 M122.4,266 h0.9 M126.4,266.4 h0.9" stroke="#222" stroke-width="1.1"/>
</svg>
</body></html>
